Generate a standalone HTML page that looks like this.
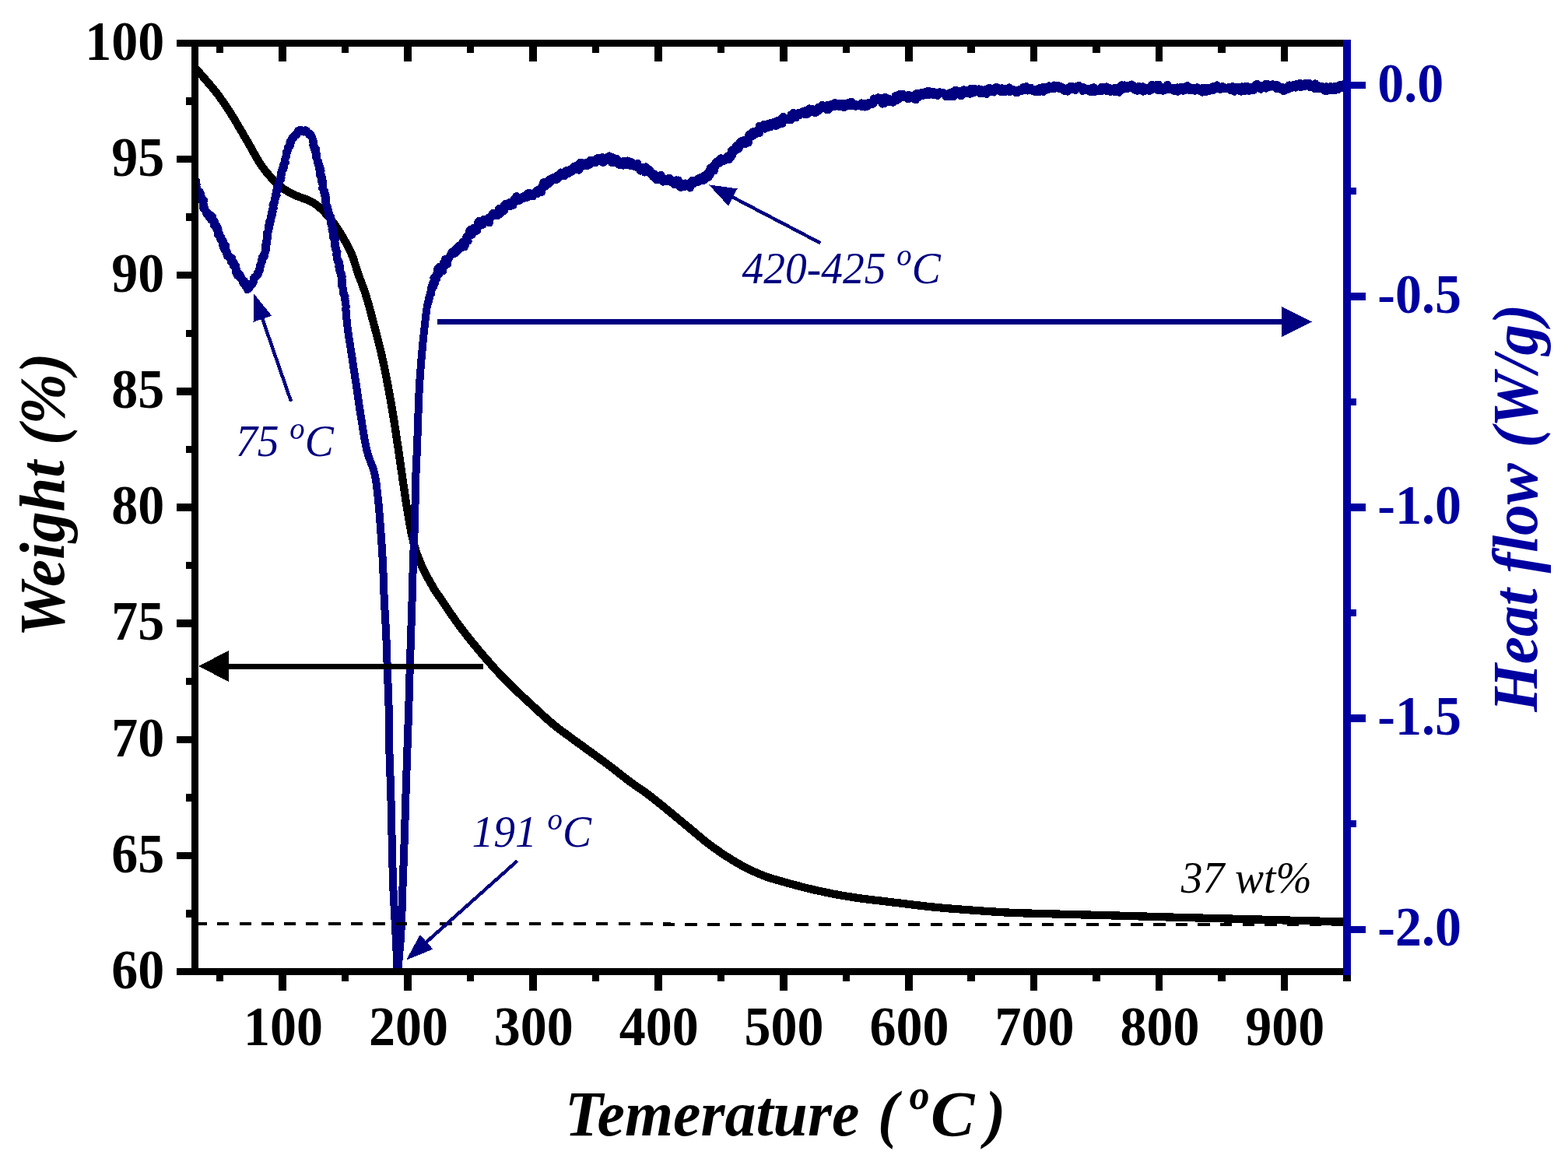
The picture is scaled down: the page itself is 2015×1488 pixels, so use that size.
<!DOCTYPE html>
<html><head><meta charset="utf-8"><title>TGA / DSC</title>
<style>html,body{margin:0;padding:0;background:#fff}svg{display:block}</style>
</head><body>
<svg width="2015" height="1488" viewBox="0 0 2015 1488" shape-rendering="crispEdges">
<rect width="2015" height="1488" fill="#fff"/>
<defs><clipPath id="pc"><rect x="255" y="60" width="1471" height="1184"/></clipPath></defs>
<g clip-path="url(#pc)">
<path d="M246.0,82.0 L247.0,83.1 L247.9,84.0 L248.7,84.9 L249.5,85.8 L250.5,86.8 L251.6,88.1 L253.1,89.7 L254.9,91.8 L257.2,94.4 L259.9,97.5 L262.9,100.9 L266.1,104.6 L269.3,108.4 L272.6,112.2 L275.7,116.0 L278.5,119.6 L281.1,123.0 L283.5,126.4 L285.9,129.7 L288.2,133.1 L290.5,136.5 L292.8,139.9 L295.1,143.5 L297.5,147.3 L300.0,151.2 L302.4,155.3 L304.9,159.5 L307.4,163.8 L310.0,168.2 L312.5,172.5 L315.0,176.8 L317.5,181.1 L320.0,185.4 L322.5,189.8 L324.9,194.2 L327.4,198.6 L329.9,202.9 L332.4,207.1 L334.9,211.1 L337.5,214.8 L340.1,218.3 L342.8,221.7 L345.6,225.0 L348.3,228.1 L351.1,231.0 L353.8,233.8 L356.5,236.4 L359.1,238.7 L361.7,240.8 L364.2,242.6 L366.7,244.2 L369.2,245.6 L371.6,247.0 L374.1,248.2 L376.5,249.4 L379.0,250.6 L381.5,251.8 L384.1,252.8 L386.7,253.8 L389.3,254.7 L391.8,255.6 L394.3,256.5 L396.6,257.4 L398.8,258.5 L400.8,259.6 L402.6,260.6 L404.4,261.7 L406.0,262.8 L407.6,264.0 L409.2,265.3 L410.9,266.8 L412.7,268.4 L414.6,270.2 L416.6,272.2 L418.6,274.4 L420.6,276.6 L422.7,279.0 L424.7,281.4 L426.7,283.8 L428.6,286.3 L430.5,288.9 L432.3,291.5 L434.1,294.3 L435.9,297.1 L437.7,299.9 L439.4,302.7 L441.0,305.4 L442.5,308.1 L443.9,310.7 L445.3,313.1 L446.6,315.5 L447.8,317.9 L449.0,320.3 L450.2,322.8 L451.3,325.3 L452.4,328.0 L453.5,330.8 L454.5,333.6 L455.4,336.5 L456.3,339.4 L457.3,342.4 L458.2,345.5 L459.2,348.6 L460.3,351.8 L461.4,355.0 L462.6,358.2 L463.9,361.4 L465.1,364.8 L466.4,368.2 L467.7,371.8 L469.0,375.6 L470.3,379.7 L471.6,384.1 L473.0,388.8 L474.4,393.7 L475.8,398.8 L477.1,404.0 L478.5,409.2 L479.9,414.4 L481.2,419.4 L482.5,424.4 L483.8,429.3 L485.1,434.3 L486.3,439.2 L487.6,444.2 L488.8,449.2 L490.0,454.1 L491.1,459.1 L492.2,464.1 L493.3,469.0 L494.3,474.0 L495.3,479.0 L496.3,483.9 L497.2,488.9 L498.2,493.8 L499.1,498.8 L500.0,503.8 L500.9,508.7 L501.8,513.7 L502.7,518.6 L503.5,523.6 L504.4,528.6 L505.2,533.5 L506.0,538.5 L506.8,543.4 L507.6,548.4 L508.3,553.3 L509.1,558.2 L509.8,563.2 L510.5,568.1 L511.3,573.1 L512.0,578.2 L512.8,583.3 L513.5,588.6 L514.3,593.8 L515.0,599.1 L515.8,604.4 L516.6,609.6 L517.3,614.9 L518.1,620.0 L518.8,625.1 L519.6,630.1 L520.3,635.0 L521.0,640.0 L521.7,644.9 L522.5,649.8 L523.3,654.8 L524.1,659.7 L525.0,664.7 L525.9,669.9 L526.8,675.0 L527.7,680.2 L528.7,685.2 L529.8,690.2 L530.9,694.9 L532.0,699.4 L533.2,703.6 L534.4,707.6 L535.7,711.5 L537.1,715.2 L538.5,718.8 L539.9,722.3 L541.4,725.7 L542.9,729.2 L544.5,732.7 L546.3,736.3 L548.2,739.9 L550.1,743.4 L552.0,746.7 L553.8,749.8 L555.4,752.6 L556.8,755.0 L557.8,756.8 L558.4,757.8 L558.8,758.4 L559.1,758.9 L559.5,759.5 L560.2,760.4 L561.3,762.0 L563.0,764.5 L565.4,768.0 L568.3,772.3 L571.5,777.2 L575.1,782.4 L578.9,787.9 L582.7,793.5 L586.5,798.8 L590.2,803.9 L593.8,808.7 L597.6,813.6 L601.3,818.4 L605.2,823.2 L609.0,827.9 L612.9,832.6 L616.7,837.2 L620.5,841.7 L624.3,846.1 L628.1,850.4 L631.8,854.7 L635.6,858.9 L639.4,863.0 L643.1,867.0 L646.9,871.0 L650.7,874.9 L654.5,878.7 L658.3,882.4 L662.1,886.1 L665.9,889.7 L669.6,893.2 L673.4,896.7 L677.2,900.2 L681.0,903.7 L684.8,907.2 L688.6,910.7 L692.3,914.2 L696.1,917.7 L699.9,921.1 L703.6,924.5 L707.4,927.7 L711.2,930.9 L714.9,933.9 L718.5,936.7 L722.1,939.4 L725.7,942.1 L729.4,944.8 L733.2,947.5 L737.2,950.5 L741.5,953.6 L746.2,957.0 L751.3,960.7 L756.6,964.6 L762.1,968.5 L767.5,972.5 L772.8,976.3 L777.8,979.9 L782.3,983.3 L786.4,986.4 L790.1,989.3 L793.6,992.0 L796.9,994.7 L800.1,997.2 L803.3,999.7 L806.4,1002.1 L809.6,1004.5 L812.8,1006.8 L816.0,1009.1 L819.1,1011.2 L822.1,1013.3 L825.2,1015.4 L828.3,1017.5 L831.3,1019.7 L834.4,1022.0 L837.5,1024.4 L840.6,1026.8 L843.7,1029.3 L846.8,1031.8 L850.0,1034.4 L853.1,1036.9 L856.2,1039.5 L859.3,1042.0 L862.4,1044.5 L865.5,1047.1 L868.6,1049.7 L871.7,1052.2 L874.8,1054.8 L877.9,1057.4 L881.0,1059.9 L884.1,1062.5 L887.2,1065.1 L890.3,1067.7 L893.4,1070.3 L896.5,1072.9 L899.6,1075.5 L902.7,1078.1 L905.8,1080.6 L908.9,1083.0 L912.0,1085.4 L915.1,1087.7 L918.2,1089.9 L921.3,1092.1 L924.4,1094.3 L927.5,1096.4 L930.6,1098.5 L933.7,1100.5 L936.8,1102.5 L939.9,1104.4 L943.0,1106.3 L946.1,1108.2 L949.2,1110.0 L952.3,1111.7 L955.4,1113.4 L958.5,1115.0 L961.6,1116.6 L964.7,1118.1 L967.8,1119.5 L970.9,1120.9 L974.0,1122.3 L977.1,1123.6 L980.2,1124.8 L983.3,1126.0 L986.4,1127.1 L989.5,1128.1 L992.6,1129.1 L995.7,1130.0 L998.8,1130.9 L1001.9,1131.8 L1005.0,1132.6 L1008.1,1133.5 L1011.2,1134.4 L1014.3,1135.3 L1017.4,1136.1 L1020.5,1137.0 L1023.6,1137.8 L1026.7,1138.6 L1029.8,1139.4 L1032.9,1140.2 L1036.0,1141.0 L1039.1,1141.7 L1042.2,1142.4 L1045.3,1143.2 L1048.5,1143.9 L1051.6,1144.6 L1054.7,1145.2 L1057.8,1145.9 L1060.9,1146.6 L1064.0,1147.2 L1067.1,1147.8 L1070.2,1148.5 L1073.3,1149.1 L1076.4,1149.7 L1079.5,1150.2 L1082.6,1150.8 L1085.7,1151.3 L1088.8,1151.8 L1091.9,1152.3 L1095.0,1152.8 L1098.1,1153.3 L1101.2,1153.7 L1104.3,1154.2 L1107.4,1154.6 L1110.5,1155.0 L1113.5,1155.4 L1116.5,1155.8 L1119.5,1156.1 L1122.5,1156.5 L1125.7,1156.8 L1128.9,1157.2 L1132.2,1157.6 L1135.6,1158.0 L1139.1,1158.4 L1142.6,1158.9 L1146.2,1159.3 L1149.9,1159.8 L1153.8,1160.2 L1157.8,1160.7 L1161.9,1161.2 L1166.2,1161.7 L1170.7,1162.3 L1175.3,1162.8 L1180.1,1163.4 L1184.9,1164.0 L1189.9,1164.5 L1194.9,1165.1 L1200.0,1165.6 L1205.1,1166.1 L1210.3,1166.6 L1215.6,1167.0 L1220.9,1167.5 L1226.4,1167.9 L1232.0,1168.3 L1237.8,1168.8 L1243.8,1169.2 L1250.1,1169.7 L1256.6,1170.1 L1263.3,1170.6 L1270.2,1171.1 L1277.1,1171.5 L1284.0,1172.0 L1290.9,1172.4 L1297.6,1172.7 L1304.2,1173.0 L1310.7,1173.2 L1317.1,1173.4 L1323.6,1173.6 L1330.0,1173.8 L1336.6,1174.0 L1343.2,1174.1 L1350.0,1174.3 L1356.8,1174.5 L1363.4,1174.7 L1370.1,1174.8 L1376.9,1175.0 L1383.9,1175.2 L1391.3,1175.4 L1399.1,1175.6 L1407.5,1175.8 L1416.6,1176.0 L1426.3,1176.3 L1436.4,1176.6 L1446.9,1176.9 L1457.6,1177.2 L1468.4,1177.5 L1479.0,1177.8 L1489.4,1178.1 L1499.6,1178.4 L1509.9,1178.7 L1520.1,1178.9 L1530.4,1179.2 L1540.6,1179.5 L1550.8,1179.8 L1561.1,1180.0 L1571.3,1180.3 L1581.6,1180.6 L1591.9,1180.9 L1602.3,1181.1 L1612.7,1181.4 L1623.0,1181.7 L1633.2,1182.0 L1643.3,1182.2 L1653.2,1182.5 L1662.9,1182.8 L1672.4,1183.0 L1681.8,1183.3 L1691.0,1183.5 L1700.3,1183.8 L1709.5,1184.0 L1718.7,1184.3 L1728.0,1184.5" stroke="#000" stroke-width="10.3" fill="none" stroke-linejoin="round"/>
</g>
<g clip-path="url(#pc)">
<path d="M247.8,226.8 L249.0,229.4 L249.4,229.4 L247.2,226.8 L249.2,229.7 L247.1,226.9 L249.1,228.0 L249.6,232.0 L249.2,234.1 L249.3,231.4 L249.2,231.8 L250.3,235.3 L250.7,232.3 L251.9,232.3 L252.2,236.6 L251.5,236.4 L252.6,237.2 L250.8,239.8 L250.9,237.4 L251.8,240.6 L253.1,240.7 L253.2,241.1 L252.4,240.8 L252.4,243.1 L251.8,243.6 L251.5,241.5 L253.2,245.7 L254.0,245.4 L252.8,245.7 L253.6,247.9 L254.1,247.6 L254.2,249.4 L256.2,248.9 L255.5,248.9 L256.9,246.5 L256.6,248.6 L256.8,247.8 L258.3,249.4 L256.7,250.4 L256.8,250.4 L256.9,253.3 L257.2,252.0 L259.3,254.2 L257.8,251.3 L258.2,254.8 L259.0,257.5 L258.7,254.8 L261.0,257.6 L259.7,257.0 L260.3,256.1 L260.9,256.6 L260.3,257.2 L262.0,257.3 L261.0,260.6 L261.4,260.6 L261.4,261.4 L261.7,263.4 L261.3,263.8 L262.2,263.3 L260.6,265.8 L262.3,266.0 L261.9,268.9 L263.6,268.9 L262.5,266.0 L262.1,267.0 L263.0,268.7 L263.7,269.8 L263.8,270.7 L265.0,272.3 L264.6,271.0 L266.6,273.9 L265.1,274.5 L267.3,275.8 L267.1,274.4 L267.1,275.1 L268.1,274.7 L268.3,278.7 L269.0,278.3 L269.3,278.5 L270.0,278.1 L271.5,279.4 L271.7,276.8 L270.4,278.0 L271.6,277.0 L271.4,277.9 L272.4,279.8 L273.3,279.0 L271.4,282.9 L274.1,282.4 L273.3,282.7 L273.5,283.4 L274.7,284.1 L274.6,283.3 L274.1,285.1 L276.1,285.1 L274.9,285.9 L274.9,289.2 L277.8,289.4 L276.3,288.4 L276.8,288.2 L277.3,290.2 L278.8,290.4 L279.3,292.0 L278.4,290.2 L278.2,291.0 L278.4,295.3 L278.6,292.8 L279.0,293.4 L279.0,294.6 L280.7,294.6 L279.4,295.6 L279.6,295.9 L280.2,297.4 L280.9,298.2 L281.2,299.5 L281.6,298.9 L280.3,302.0 L280.4,300.0 L280.7,300.0 L280.7,299.0 L281.0,302.7 L281.3,302.9 L282.9,304.2 L282.6,306.6 L284.3,304.7 L282.9,305.5 L283.9,306.3 L284.3,308.8 L283.8,307.3 L285.2,308.7 L284.2,308.8 L283.8,308.7 L285.8,308.6 L285.5,311.4 L286.8,309.2 L286.8,313.4 L286.4,314.8 L285.9,312.1 L286.1,313.2 L286.6,317.6 L286.9,316.4 L287.1,317.3 L289.0,314.0 L288.9,315.3 L290.3,316.2 L288.6,319.7 L288.5,321.0 L290.5,318.6 L288.4,319.6 L289.3,320.2 L290.1,322.6 L291.4,323.5 L290.5,324.9 L291.9,323.8 L291.6,327.5 L292.7,328.1 L292.5,327.0 L293.1,327.1 L291.9,329.0 L293.9,327.9 L294.2,328.9 L295.8,330.9 L295.2,332.1 L296.1,330.6 L295.1,331.8 L297.4,332.5 L296.6,334.0 L298.0,332.1 L298.5,331.9 L297.6,332.1 L296.7,334.8 L297.1,336.9 L299.0,336.6 L298.8,338.4 L299.9,336.6 L299.1,338.7 L300.1,340.8 L298.5,336.3 L299.1,338.5 L300.3,339.7 L300.9,340.8 L301.0,338.0 L299.8,341.3 L300.5,339.4 L301.7,342.3 L300.9,342.8 L303.4,342.0 L303.2,343.2 L303.5,345.8 L303.9,346.3 L302.7,345.7 L303.3,348.0 L303.3,348.4 L304.1,349.3 L303.2,350.9 L304.5,349.2 L305.8,350.2 L304.5,348.9 L305.0,351.8 L304.5,352.6 L304.8,350.5 L304.8,354.0 L306.3,353.6 L307.8,352.0 L307.4,353.6 L307.7,355.1 L307.2,356.1 L309.0,356.8 L309.7,355.2 L310.4,357.3 L309.8,357.2 L311.0,359.5 L312.4,360.6 L310.8,359.6 L310.9,358.2 L311.4,360.1 L312.3,363.8 L312.0,360.5 L311.9,361.7 L313.9,360.9 L313.0,364.5 L315.0,365.8 L315.6,367.6 L314.1,364.8 L314.6,366.4 L315.0,366.7 L315.9,368.4 L317.1,368.3 L318.0,369.2 L316.9,368.6 L317.9,372.2 L319.8,369.6 L320.5,370.4 L321.5,367.3 L321.5,366.8 L322.6,366.3 L321.6,367.4 L322.6,364.6 L324.4,365.1 L324.4,363.6 L325.1,363.2 L325.0,362.3 L326.0,362.5 L325.1,361.9 L326.5,361.4 L325.6,359.5 L325.7,358.9 L326.4,358.4 L326.1,358.6 L326.1,357.6 L327.6,357.2 L327.1,355.8 L328.3,355.2 L328.0,355.3 L328.2,355.9 L328.8,355.7 L329.9,354.8 L329.5,354.5 L330.4,354.3 L330.3,354.7 L331.2,353.5 L330.8,353.4 L330.5,352.3 L330.7,350.9 L332.0,349.7 L332.5,351.1 L332.0,350.7 L332.2,349.9 L332.5,348.9 L334.2,347.0 L332.6,347.1 L333.7,346.6 L334.5,344.5 L334.0,344.3 L334.7,341.7 L334.7,340.6 L335.5,340.7 L334.8,339.8 L334.4,340.5 L334.8,339.4 L335.5,339.1 L336.2,337.4 L335.8,336.9 L336.3,337.0 L335.5,336.0 L335.6,334.6 L335.8,335.9 L336.6,333.3 L337.2,335.4 L337.4,333.1 L337.5,332.5 L336.7,330.8 L338.5,331.1 L338.2,330.7 L339.3,328.7 L337.8,329.1 L339.6,329.8 L339.4,329.2 L339.8,328.4 L339.5,325.9 L339.7,326.0 L339.8,326.3 L340.6,324.2 L340.9,323.6 L341.0,324.0 L341.3,322.0 L340.8,322.8 L341.4,320.9 L341.8,320.3 L342.3,320.3 L341.3,318.9 L341.7,319.3 L341.5,319.0 L342.2,318.5 L341.1,317.0 L341.2,315.8 L341.2,314.6 L341.1,315.3 L342.2,314.2 L343.1,312.8 L342.0,311.5 L342.2,311.8 L341.7,310.4 L342.9,310.1 L343.1,308.4 L343.0,308.4 L342.8,307.9 L344.0,306.4 L343.7,304.9 L344.1,304.3 L342.6,305.4 L343.9,303.0 L343.2,303.5 L344.0,302.8 L344.2,301.4 L343.4,301.3 L343.4,300.6 L344.5,298.9 L344.4,298.4 L343.3,299.0 L344.2,297.7 L345.1,295.7 L344.5,295.0 L345.3,296.0 L345.0,293.9 L345.5,294.5 L345.8,293.2 L345.2,292.5 L345.2,291.4 L345.4,291.5 L345.4,291.1 L346.6,289.3 L346.0,290.2 L346.4,289.8 L345.4,289.2 L346.4,287.8 L345.8,286.3 L347.2,287.0 L347.3,285.3 L346.3,284.6 L347.3,285.4 L346.4,284.2 L347.9,284.4 L348.4,283.2 L348.3,281.1 L347.9,280.4 L348.7,279.4 L348.0,279.0 L348.7,278.1 L348.6,277.3 L348.0,277.9 L348.7,276.4 L348.6,276.3 L349.4,275.3 L350.1,275.3 L350.1,273.2 L349.1,272.5 L349.9,273.0 L349.7,271.9 L350.7,271.8 L349.7,270.7 L349.9,270.1 L349.9,269.0 L350.3,268.5 L350.8,266.9 L350.4,267.5 L351.8,267.2 L351.3,266.1 L351.5,266.9 L351.1,266.5 L351.0,265.2 L351.7,263.6 L350.4,263.6 L351.2,261.6 L351.4,263.0 L351.8,261.0 L352.3,260.9 L352.7,261.0 L352.2,259.2 L352.7,258.9 L353.0,258.7 L353.3,257.0 L353.1,256.2 L353.6,255.3 L353.1,254.4 L354.1,255.2 L353.5,253.4 L353.7,252.6 L354.0,253.0 L355.3,251.7 L355.7,251.3 L354.2,251.3 L354.4,250.3 L354.5,248.0 L355.3,247.8 L354.8,248.2 L355.2,246.5 L354.8,246.0 L355.3,245.2 L356.5,244.0 L355.9,244.4 L357.0,244.4 L356.1,243.4 L356.1,240.8 L357.4,241.6 L357.5,241.1 L357.2,240.2 L356.9,240.4 L356.9,239.2 L357.6,237.7 L357.9,237.7 L357.7,237.2 L358.7,234.4 L359.2,233.7 L359.1,234.1 L359.1,232.9 L359.0,233.6 L359.4,232.3 L359.1,231.3 L359.7,232.0 L360.2,230.6 L359.5,231.8 L360.8,231.1 L361.5,228.5 L360.7,228.0 L361.1,227.4 L360.5,226.4 L361.1,227.2 L361.5,227.0 L361.2,225.5 L361.1,225.7 L361.8,224.7 L361.5,220.9 L361.0,222.7 L362.1,221.4 L362.2,220.0 L362.4,218.9 L363.6,217.8 L362.4,218.4 L363.1,217.9 L363.2,216.0 L364.4,216.8 L364.4,214.9 L364.7,214.0 L365.0,215.4 L364.5,213.4 L365.0,214.0 L365.0,213.1 L364.2,211.8 L364.3,211.9 L365.0,210.2 L364.8,210.4 L365.5,209.7 L366.6,208.1 L366.2,209.0 L366.9,208.7 L366.2,208.3 L365.7,205.4 L366.3,206.6 L366.4,205.2 L366.6,204.5 L366.7,203.9 L366.9,203.6 L367.0,202.0 L368.3,200.5 L368.5,199.9 L368.2,199.4 L367.7,199.8 L368.5,197.1 L368.1,197.1 L368.5,195.7 L369.0,195.7 L368.1,196.6 L368.1,195.3 L369.2,194.3 L369.5,193.5 L369.3,192.9 L370.3,191.9 L370.5,191.5 L370.4,189.8 L370.9,189.5 L370.1,189.3 L370.5,190.0 L371.3,187.7 L371.4,186.6 L371.4,188.1 L372.7,187.9 L372.1,186.0 L372.6,185.6 L372.9,185.1 L373.4,182.4 L373.7,183.9 L372.5,182.6 L373.4,180.9 L373.9,180.8 L373.9,180.5 L374.0,179.7 L375.0,178.2 L375.2,177.3 L375.4,179.5 L376.6,176.1 L376.6,176.8 L377.3,175.4 L377.4,175.6 L377.9,176.4 L378.7,174.3 L379.0,174.4 L379.9,173.4 L379.4,172.8 L380.6,172.9 L381.1,173.2 L382.1,171.8 L381.5,170.9 L382.3,169.5 L383.1,169.0 L383.3,167.7 L384.2,167.4 L385.3,167.4 L385.2,169.3 L386.0,168.2 L386.7,168.6 L387.8,168.0 L388.0,167.4 L389.6,167.8 L389.3,169.2 L390.2,169.5 L391.4,168.3 L391.4,167.5 L392.5,167.2 L393.6,167.6 L394.5,168.5 L394.5,170.0 L395.1,170.6 L394.5,170.3 L395.4,170.5 L396.9,170.9 L396.8,171.7 L397.6,172.8 L396.6,171.3 L396.9,173.0 L398.7,172.4 L399.5,172.8 L399.7,174.0 L399.3,173.7 L400.4,176.3 L400.5,176.5 L400.8,175.6 L401.1,176.6 L401.0,177.1 L401.9,178.9 L401.4,177.5 L401.8,178.7 L401.7,180.4 L402.3,181.4 L403.0,183.3 L403.4,182.8 L402.5,183.6 L402.9,185.9 L403.0,184.5 L403.6,186.6 L402.4,185.6 L402.3,186.6 L403.8,187.7 L403.1,189.0 L404.9,190.5 L403.6,189.6 L403.9,191.5 L405.4,191.6 L405.6,191.1 L406.1,191.6 L404.6,193.3 L405.2,192.5 L404.9,194.9 L406.3,193.5 L405.9,193.2 L406.2,195.3 L406.1,196.8 L406.8,197.2 L406.9,197.8 L406.3,197.9 L406.2,199.6 L406.8,199.4 L406.7,200.5 L407.5,201.6 L406.7,200.7 L407.4,203.4 L406.3,202.2 L407.3,203.9 L407.5,204.4 L408.0,207.0 L408.9,207.1 L409.3,209.1 L408.2,208.5 L408.2,209.3 L409.2,210.3 L409.4,209.8 L409.4,209.9 L410.0,211.2 L409.0,211.4 L410.0,212.6 L410.3,215.2 L411.0,215.6 L411.6,215.1 L411.5,215.8 L410.4,216.6 L411.3,217.2 L411.2,217.1 L412.1,218.0 L411.1,218.8 L410.4,217.9 L412.3,219.2 L411.8,220.2 L412.4,219.7 L411.8,220.4 L411.1,222.5 L412.3,221.8 L411.6,223.7 L411.5,224.5 L412.6,223.8 L411.4,226.4 L411.4,226.4 L413.5,227.0 L413.2,228.9 L413.9,228.2 L413.3,229.7 L412.7,231.0 L413.9,230.3 L413.6,232.3 L413.4,233.9 L414.8,232.6 L414.2,233.6 L414.4,234.1 L414.7,234.7 L414.3,236.8 L415.0,236.8 L414.9,238.2 L415.2,238.3 L414.4,241.1 L415.5,241.3 L414.2,241.9 L414.2,241.9 L414.2,241.7 L414.8,242.9 L415.6,243.4 L415.6,245.0 L416.1,245.5 L416.8,246.0 L417.1,245.6 L417.0,246.8 L417.3,246.7 L417.6,248.1 L416.4,247.7 L417.4,250.1 L417.2,248.4 L416.9,250.3 L417.8,250.3 L418.6,250.5 L417.7,252.9 L418.1,254.1 L418.6,252.9 L418.9,254.8 L417.5,254.8 L417.9,255.9 L418.0,256.5 L417.9,257.4 L418.6,257.6 L418.1,259.0 L418.4,258.7 L418.6,260.9 L419.2,261.0 L418.9,260.3 L419.0,263.3 L419.3,263.1 L419.6,264.4 L420.5,265.2 L419.6,264.6 L420.4,265.3 L420.4,265.6 L421.2,266.5 L420.5,269.1 L420.8,268.0 L422.1,270.1 L421.1,270.2 L421.0,269.9 L421.3,270.2 L422.3,270.6 L422.2,273.6 L422.8,273.9 L421.9,274.2 L422.2,273.7 L421.7,275.2 L423.0,275.2 L423.8,278.3 L423.7,276.8 L422.8,279.3 L423.8,279.9 L425.2,278.8 L424.0,280.2 L425.1,279.5 L424.2,280.6 L425.7,282.2 L425.5,281.9 L425.8,284.2 L424.7,283.6 L426.2,284.0 L426.0,284.3 L425.9,286.4 L426.5,286.6 L424.9,286.8 L425.8,286.9 L426.6,288.6 L426.6,288.9 L426.3,288.9 L425.8,289.9 L427.5,291.5 L426.6,291.6 L427.6,292.0 L428.3,293.3 L427.0,293.8 L426.5,294.8 L427.2,296.7 L427.4,296.2 L428.7,297.1 L427.6,298.6 L428.3,299.2 L429.0,300.0 L428.3,300.5 L428.8,301.2 L427.9,301.1 L429.1,300.9 L428.1,300.9 L427.8,301.6 L428.8,303.5 L429.6,303.4 L428.3,305.6 L428.7,305.0 L430.1,306.9 L430.1,307.2 L430.7,307.1 L429.6,307.9 L430.1,308.7 L429.9,309.6 L430.8,308.6 L430.0,309.7 L429.9,312.6 L430.5,311.7 L431.3,313.6 L430.7,313.8 L429.7,314.5 L431.0,316.2 L430.2,316.7 L430.7,318.2 L431.8,318.2 L431.5,319.5 L431.5,319.9 L430.8,319.0 L431.5,321.0 L432.3,321.3 L432.6,322.8 L431.8,321.9 L433.1,323.6 L433.0,324.3 L433.5,323.7 L432.1,326.6 L432.4,325.6 L432.8,326.9 L432.4,327.0 L432.5,327.2 L433.5,329.0 L433.0,331.1 L433.2,332.0 L433.5,332.2 L433.0,332.4 L433.5,333.9 L433.2,332.4 L434.3,334.0 L433.8,335.5 L435.1,334.9 L434.4,335.5 L435.4,336.3 L435.9,336.8 L435.2,337.3 L436.1,338.8 L435.4,338.6 L435.6,339.9 L436.4,341.9 L436.7,341.5 L435.4,341.9 L435.4,343.4 L435.8,342.8 L437.1,343.8 L435.6,345.5 L436.7,346.6 L436.2,347.4 L436.4,346.6 L437.1,346.3 L436.5,348.3 L436.6,347.4 L438.0,350.1 L437.5,350.6 L437.3,351.1 L438.0,350.2 L437.5,350.8 L438.0,352.2 L438.9,351.5 L437.7,353.3 L438.8,353.5 L439.5,354.6 L438.8,355.3 L438.8,356.8 L439.8,355.7 L438.9,356.6 L438.7,358.7 L439.1,359.0 L439.7,359.6 L439.7,359.2 L439.8,360.5 L439.6,361.3 L440.0,361.7 L439.4,363.2 L439.3,362.7 L438.8,364.7 L439.9,366.1 L439.1,366.8 L439.2,366.7 L440.2,367.7 L439.5,367.2 L440.1,368.6 L440.7,369.9 L440.8,371.4 L440.9,372.0 L440.8,372.3 L441.4,373.7 L441.3,374.2 L441.2,374.7 L441.5,375.2 L441.0,376.5 L442.1,377.1 L442.0,377.9 L442.0,377.8 L442.1,378.2 L442.1,379.0 L442.5,379.4 L442.4,379.8 L443.0,380.9 L443.5,381.1 L443.2,382.2 L443.0,382.4 L443.5,383.2 L443.5,384.0 L443.4,384.7 L443.3,385.2 L443.8,386.5 L443.9,386.7 L444.0,387.8 L443.9,388.5 L444.0,390.3 L444.1,390.6 L444.3,391.0 L444.2,391.8 L444.5,392.2 L444.6,393.3 L444.8,394.2 L444.5,395.0 L444.6,395.5 L444.4,395.9 L444.2,396.5 L444.3,397.5 L444.2,398.0 L444.5,398.6 L444.4,399.2 L444.9,399.9 L444.6,400.4 L444.9,401.3 L445.0,401.8 L444.8,402.8 L444.8,403.6 L445.2,403.9 L445.2,404.9 L445.2,405.3 L445.1,405.9 L445.0,406.8 L445.3,407.5 L445.2,408.4 L445.4,409.1 L445.4,409.7 L445.4,410.3 L445.6,411.1 L445.6,411.8 L445.6,412.5 L445.7,413.1 L445.8,413.7 L445.8,414.3 L445.9,415.1 L445.9,415.8 L446.1,416.5 L446.1,417.2 L446.2,417.8 L446.3,418.6 L446.4,419.3 L446.5,419.9 L446.6,420.6 L446.6,421.3 L446.7,422.0 L446.8,422.7 L446.9,423.4 L447.0,424.1 L447.1,424.8 L447.2,425.5 L447.3,426.2 L447.4,426.9 L447.5,427.6 L447.6,428.3 L447.7,429.0 L447.8,429.7 L447.9,430.3 L448.0,431.0 L448.1,431.7 L448.2,432.4 L448.3,433.1 L448.4,433.8 L448.5,434.5 L448.6,435.2 L448.7,435.9 L448.8,436.6 L449.0,437.3 L449.1,438.0 L449.2,438.7 L449.3,439.3 L449.4,440.0 L449.5,440.7 L449.6,441.4 L449.7,442.1 L449.8,442.8 L449.9,443.5 L450.1,444.2 L450.2,444.9 L450.3,445.6 L450.4,446.3 L450.5,446.9 L450.6,447.6 L450.7,448.3 L450.8,449.0 L450.9,449.7 L451.0,450.4 L451.2,451.1 L451.3,451.8 L451.4,452.5 L451.5,453.2 L451.6,453.9 L451.7,454.6 L451.8,455.2 L451.9,455.9 L452.0,456.6 L452.1,457.3 L452.2,458.0 L452.3,458.7 L452.4,459.4 L452.5,460.1 L452.7,460.8 L452.8,461.5 L452.9,462.2 L453.0,462.9 L453.1,463.5 L453.2,464.2 L453.3,464.9 L453.4,465.6 L453.5,466.3 L453.6,467.0 L453.7,467.7 L453.8,468.4 L453.9,469.1 L454.0,469.8 L454.1,470.5 L454.2,471.2 L454.3,471.9 L454.4,472.5 L454.5,473.2 L454.6,473.9 L454.8,474.6 L454.9,475.3 L455.0,476.0 L455.1,476.7 L455.2,477.4 L455.3,478.1 L455.4,478.8 L455.5,479.5 L455.6,480.2 L455.7,480.8 L455.8,481.5 L455.9,482.2 L456.0,482.9 L456.1,483.6 L456.2,484.3 L456.3,485.0 L456.4,485.7 L456.5,486.4 L456.6,487.1 L456.7,487.8 L456.8,488.5 L456.9,489.2 L457.1,489.8 L457.2,490.5 L457.3,491.2 L457.4,491.9 L457.5,492.6 L457.6,493.3 L457.7,494.0 L457.8,494.7 L457.9,495.4 L458.0,496.1 L458.1,496.8 L458.2,497.5 L458.3,498.2 L458.4,498.8 L458.5,499.5 L458.6,500.2 L458.7,500.9 L458.8,501.6 L458.9,502.3 L459.0,503.0 L459.1,503.7 L459.2,504.4 L459.3,505.1 L459.4,505.8 L459.5,506.5 L459.6,507.2 L459.7,507.8 L459.8,508.5 L459.9,509.2 L460.0,509.9 L460.1,510.6 L460.2,511.3 L460.3,512.0 L460.4,512.7 L460.5,513.4 L460.6,514.1 L460.7,514.8 L460.8,515.5 L460.9,516.2 L461.0,516.9 L461.1,517.5 L461.2,518.2 L461.3,518.9 L461.4,519.6 L461.5,520.3 L461.6,521.0 L461.7,521.7 L461.8,522.4 L461.9,523.1 L462.0,523.8 L462.1,524.5 L462.2,525.2 L462.3,525.9 L462.4,526.6 L462.6,527.2 L462.7,527.9 L462.8,528.6 L462.9,529.3 L463.0,530.0 L463.1,530.7 L463.2,531.4 L463.3,532.1 L463.4,532.8 L463.5,533.5 L463.6,534.2 L463.7,534.9 L463.8,535.5 L463.9,536.2 L464.0,536.9 L464.2,537.6 L464.3,538.3 L464.4,539.0 L464.5,539.7 L464.6,540.4 L464.7,541.1 L464.8,541.8 L464.9,542.5 L465.0,543.2 L465.2,543.8 L465.3,544.5 L465.4,545.2 L465.5,545.9 L465.6,546.6 L465.7,547.3 L465.8,548.0 L465.9,548.7 L466.0,549.4 L466.1,550.1 L466.2,550.8 L466.3,551.4 L466.5,552.1 L466.6,552.8 L466.7,553.5 L466.8,554.2 L466.9,554.9 L467.0,555.6 L467.1,556.3 L467.2,557.0 L467.3,557.7 L467.5,558.4 L467.6,559.1 L467.7,559.7 L467.8,560.4 L467.9,561.1 L468.0,561.8 L468.1,562.5 L468.3,563.2 L468.4,563.9 L468.5,564.6 L468.6,565.3 L468.8,565.9 L468.9,566.6 L469.0,567.3 L469.1,568.0 L469.3,568.7 L469.4,569.4 L469.5,570.1 L469.7,570.8 L469.8,571.4 L470.0,572.1 L470.1,572.8 L470.2,573.5 L470.4,574.2 L470.5,574.9 L470.7,575.6 L470.8,576.2 L471.0,576.9 L471.2,577.6 L471.3,578.3 L471.5,579.0 L471.7,579.6 L471.9,580.3 L472.0,581.0 L472.2,581.7 L472.4,582.3 L472.6,583.0 L472.8,583.7 L473.0,584.3 L473.2,585.0 L473.5,585.7 L473.7,586.3 L473.9,587.0 L474.1,587.7 L474.4,588.3 L474.6,589.0 L474.9,589.6 L475.1,590.3 L475.3,591.0 L475.6,591.6 L475.8,592.3 L476.1,592.9 L476.3,593.6 L476.6,594.2 L476.8,594.9 L477.1,595.5 L477.3,596.2 L477.6,596.9 L477.8,597.5 L478.0,598.2 L478.3,598.8 L478.5,599.5 L478.8,600.1 L479.0,600.8 L479.2,601.5 L479.5,602.1 L479.7,602.8 L479.9,603.5 L480.1,604.1 L480.3,604.8 L480.5,605.5 L480.7,606.1 L480.9,606.8 L481.1,607.5 L481.2,608.2 L481.4,608.8 L481.6,609.5 L481.7,610.2 L481.9,610.9 L482.0,611.6 L482.1,612.3 L482.3,612.9 L482.4,613.6 L482.5,614.3 L482.7,615.0 L482.8,615.7 L482.9,616.4 L483.0,617.1 L483.1,617.8 L483.2,618.5 L483.3,619.2 L483.4,619.8 L483.5,620.5 L483.6,621.2 L483.7,621.9 L483.8,622.6 L483.9,623.3 L484.0,624.0 L484.1,624.7 L484.1,625.4 L484.2,626.1 L484.3,626.8 L484.4,627.5 L484.4,628.2 L484.5,628.9 L484.6,629.6 L484.7,630.3 L484.8,631.0 L484.8,631.7 L484.9,632.4 L485.0,633.1 L485.1,633.8 L485.1,634.5 L485.2,635.1 L485.3,635.8 L485.4,636.5 L485.4,637.2 L485.5,637.9 L485.6,638.6 L485.7,639.3 L485.7,640.0 L485.8,640.7 L485.9,641.4 L486.0,642.1 L486.0,642.8 L486.1,643.5 L486.2,644.2 L486.2,644.9 L486.3,645.6 L486.4,646.3 L486.4,647.0 L486.5,647.7 L486.6,648.4 L486.6,649.1 L486.7,649.8 L486.8,650.5 L486.8,651.2 L486.9,651.9 L486.9,652.6 L487.0,653.3 L487.1,654.0 L487.1,654.7 L487.2,655.4 L487.2,656.0 L487.3,656.7 L487.3,657.4 L487.4,658.1 L487.5,658.8 L487.5,659.5 L487.6,660.2 L487.6,660.9 L487.7,661.6 L487.7,662.3 L487.8,663.0 L487.8,663.7 L487.9,664.4 L488.0,665.1 L488.0,665.8 L488.1,666.5 L488.1,667.2 L488.2,667.9 L488.2,668.6 L488.3,669.3 L488.3,670.0 L488.4,670.7 L488.4,671.4 L488.5,672.1 L488.5,672.8 L488.6,673.5 L488.7,674.2 L488.7,674.9 L488.8,675.6 L488.8,676.3 L488.9,677.0 L488.9,677.7 L489.0,678.4 L489.0,679.1 L489.1,679.8 L489.1,680.5 L489.2,681.2 L489.2,681.9 L489.3,682.6 L489.3,683.3 L489.4,684.0 L489.4,684.7 L489.5,685.4 L489.5,686.1 L489.6,686.8 L489.6,687.5 L489.7,688.2 L489.7,688.9 L489.8,689.6 L489.8,690.2 L489.9,690.9 L489.9,691.6 L490.0,692.3 L490.0,693.0 L490.1,693.7 L490.1,694.4 L490.2,695.1 L490.2,695.8 L490.3,696.5 L490.3,697.2 L490.4,697.9 L490.4,698.6 L490.5,699.3 L490.5,700.0 L490.6,700.7 L490.6,701.4 L490.7,702.1 L490.7,702.8 L490.7,703.5 L490.8,704.2 L490.8,704.9 L490.9,705.6 L490.9,706.3 L491.0,707.0 L491.0,707.7 L491.1,708.4 L491.1,709.1 L491.1,709.8 L491.2,710.5 L491.2,711.2 L491.3,711.9 L491.3,712.6 L491.4,713.3 L491.4,714.0 L491.4,714.7 L491.5,715.4 L491.5,716.1 L491.6,716.8 L491.6,717.5 L491.6,718.2 L491.7,718.9 L491.7,719.6 L491.8,720.3 L491.8,721.0 L491.8,721.7 L491.9,722.4 L491.9,723.1 L491.9,723.8 L492.0,724.5 L492.0,725.2 L492.0,725.9 L492.1,726.6 L492.1,727.3 L492.1,728.0 L492.2,728.7 L492.2,729.4 L492.2,730.1 L492.2,730.8 L492.3,731.5 L492.3,732.2 L492.3,732.9 L492.4,733.6 L492.4,734.3 L492.4,735.0 L492.4,735.7 L492.5,736.4 L492.5,737.1 L492.5,737.8 L492.5,738.5 L492.6,739.2 L492.6,739.9 L492.6,740.6 L492.6,741.3 L492.7,742.0 L492.7,742.7 L492.7,743.4 L492.7,744.1 L492.8,744.8 L492.8,745.5 L492.8,746.2 L492.8,746.9 L492.9,747.6 L492.9,748.3 L492.9,749.0 L492.9,749.7 L493.0,750.4 L493.0,751.1 L493.0,751.8 L493.0,752.5 L493.1,753.2 L493.1,753.9 L493.1,754.6 L493.1,755.3 L493.2,756.0 L493.2,756.7 L493.2,757.4 L493.2,758.1 L493.3,758.8 L493.3,759.5 L493.3,760.2 L493.4,760.9 L493.4,761.6 L493.4,762.3 L493.4,763.0 L493.5,763.7 L493.5,764.4 L493.5,765.1 L493.6,765.8 L493.6,766.5 L493.6,767.1 L493.7,767.8 L493.7,768.5 L493.7,769.2 L493.8,769.9 L493.8,770.6 L493.8,771.3 L493.9,772.0 L493.9,772.7 L493.9,773.4 L494.0,774.1 L494.0,774.8 L494.0,775.5 L494.1,776.2 L494.1,776.9 L494.1,777.6 L494.2,778.3 L494.2,779.0 L494.2,779.7 L494.3,780.4 L494.3,781.1 L494.4,781.8 L494.4,782.5 L494.4,783.2 L494.5,783.9 L494.5,784.6 L494.5,785.3 L494.6,786.0 L494.6,786.7 L494.7,787.4 L494.7,788.1 L494.7,788.8 L494.8,789.5 L494.8,790.2 L494.8,790.9 L494.9,791.6 L494.9,792.3 L495.0,793.0 L495.0,793.7 L495.0,794.4 L495.1,795.1 L495.1,795.8 L495.2,796.5 L495.2,797.2 L495.2,797.9 L495.3,798.6 L495.3,799.3 L495.4,800.0 L495.4,800.7 L495.4,801.4 L495.5,802.1 L495.5,802.8 L495.5,803.5 L495.6,804.2 L495.6,804.9 L495.7,805.6 L495.7,806.3 L495.7,807.0 L495.8,807.7 L495.8,808.4 L495.8,809.1 L495.9,809.8 L495.9,810.5 L495.9,811.2 L496.0,811.9 L496.0,812.6 L496.1,813.3 L496.1,814.0 L496.1,814.7 L496.2,815.4 L496.2,816.1 L496.2,816.8 L496.3,817.5 L496.3,818.2 L496.3,818.9 L496.3,819.6 L496.4,820.3 L496.4,821.0 L496.4,821.7 L496.5,822.4 L496.5,823.1 L496.5,823.8 L496.6,824.5 L496.6,825.2 L496.6,825.9 L496.6,826.6 L496.7,827.3 L496.7,828.0 L496.7,828.7 L496.7,829.4 L496.8,830.1 L496.8,830.8 L496.8,831.5 L496.8,832.2 L496.9,832.9 L496.9,833.6 L496.9,834.3 L496.9,835.0 L497.0,835.7 L497.0,836.4 L497.0,837.1 L497.0,837.8 L497.1,838.5 L497.1,839.2 L497.1,839.9 L497.1,840.6 L497.1,841.3 L497.2,842.0 L497.2,842.7 L497.2,843.4 L497.2,844.1 L497.3,844.8 L497.3,845.5 L497.3,846.2 L497.3,846.9 L497.3,847.6 L497.4,848.3 L497.4,849.0 L497.4,849.7 L497.4,850.4 L497.5,851.1 L497.5,851.8 L497.5,852.5 L497.5,853.2 L497.6,853.9 L497.6,854.6 L497.6,855.3 L497.6,856.0 L497.6,856.7 L497.7,857.4 L497.7,858.1 L497.7,858.8 L497.7,859.5 L497.8,860.2 L497.8,860.9 L497.8,861.6 L497.8,862.3 L497.9,863.0 L497.9,863.7 L497.9,864.4 L498.0,865.1 L498.0,865.7 L498.0,866.4 L498.0,867.1 L498.1,867.8 L498.1,868.5 L498.1,869.2 L498.1,869.9 L498.2,870.6 L498.2,871.3 L498.2,872.0 L498.2,872.7 L498.3,873.4 L498.3,874.1 L498.3,874.8 L498.3,875.5 L498.4,876.2 L498.4,876.9 L498.4,877.6 L498.5,878.3 L498.5,879.0 L498.5,879.7 L498.5,880.4 L498.6,881.1 L498.6,881.8 L498.6,882.5 L498.6,883.2 L498.7,883.9 L498.7,884.6 L498.7,885.3 L498.7,886.0 L498.8,886.7 L498.8,887.4 L498.8,888.1 L498.8,888.8 L498.9,889.5 L498.9,890.2 L498.9,890.9 L499.0,891.6 L499.0,892.3 L499.0,893.0 L499.0,893.7 L499.1,894.4 L499.1,895.1 L499.1,895.8 L499.1,896.5 L499.2,897.2 L499.2,897.9 L499.2,898.6 L499.2,899.3 L499.2,900.0 L499.3,900.7 L499.3,901.4 L499.3,902.1 L499.3,902.8 L499.4,903.5 L499.4,904.2 L499.4,904.9 L499.4,905.6 L499.5,906.3 L499.5,907.0 L499.5,907.7 L499.5,908.4 L499.5,909.1 L499.6,909.8 L499.6,910.5 L499.6,911.2 L499.6,911.9 L499.6,912.6 L499.7,913.3 L499.7,914.0 L499.7,914.7 L499.7,915.4 L499.7,916.1 L499.7,916.8 L499.8,917.5 L499.8,918.2 L499.8,918.9 L499.8,919.6 L499.8,920.3 L499.8,921.0 L499.8,921.7 L499.8,922.4 L499.9,923.1 L499.9,923.8 L499.9,924.5 L499.9,925.2 L499.9,925.9 L499.9,926.6 L499.9,927.3 L499.9,928.0 L499.9,928.7 L499.9,929.4 L499.9,930.1 L499.9,930.8 L499.9,931.5 L499.9,932.2 L499.9,932.9 L499.9,933.6 L499.9,934.3 L499.9,935.0 L499.9,935.7 L499.9,936.4 L499.9,937.1 L500.0,937.8 L500.0,938.5 L500.0,939.2 L500.0,939.9 L500.0,940.6 L500.0,941.3 L500.0,942.0 L500.0,942.7 L500.0,943.4 L500.0,944.1 L500.0,944.8 L500.0,945.5 L500.0,946.2 L500.0,946.9 L500.0,947.6 L500.0,948.3 L500.0,949.0 L500.0,949.7 L500.0,950.4 L500.0,951.1 L500.1,951.8 L500.1,952.5 L500.1,953.2 L500.1,953.9 L500.1,954.6 L500.1,955.3 L500.1,956.0 L500.1,956.7 L500.2,957.4 L500.2,958.1 L500.2,958.8 L500.2,959.5 L500.2,960.2 L500.2,960.9 L500.3,961.6 L500.3,962.3 L500.3,963.0 L500.3,963.7 L500.3,964.4 L500.3,965.1 L500.4,965.8 L500.4,966.5 L500.4,967.2 L500.4,967.9 L500.5,968.6 L500.5,969.3 L500.5,970.0 L500.5,970.7 L500.5,971.4 L500.6,972.1 L500.6,972.8 L500.6,973.5 L500.6,974.2 L500.7,974.9 L500.7,975.6 L500.7,976.3 L500.7,977.0 L500.8,977.7 L500.8,978.4 L500.8,979.1 L500.8,979.8 L500.9,980.5 L500.9,981.2 L500.9,981.9 L500.9,982.6 L501.0,983.3 L501.0,984.0 L501.0,984.7 L501.0,985.4 L501.1,986.1 L501.1,986.8 L501.1,987.5 L501.1,988.2 L501.2,988.9 L501.2,989.6 L501.2,990.3 L501.2,991.0 L501.3,991.7 L501.3,992.4 L501.3,993.1 L501.3,993.8 L501.4,994.5 L501.4,995.2 L501.4,995.9 L501.4,996.6 L501.5,997.3 L501.5,998.0 L501.5,998.7 L501.5,999.4 L501.6,1000.1 L501.6,1000.8 L501.6,1001.5 L501.6,1002.2 L501.7,1002.9 L501.7,1003.6 L501.7,1004.3 L501.7,1005.0 L501.8,1005.7 L501.8,1006.4 L501.8,1007.1 L501.8,1007.8 L501.9,1008.5 L501.9,1009.2 L501.9,1009.9 L501.9,1010.6 L502.0,1011.3 L502.0,1012.0 L502.0,1012.7 L502.0,1013.4 L502.0,1014.1 L502.1,1014.8 L502.1,1015.5 L502.1,1016.2 L502.1,1016.9 L502.2,1017.6 L502.2,1018.3 L502.2,1019.0 L502.2,1019.7 L502.2,1020.4 L502.3,1021.1 L502.3,1021.8 L502.3,1022.5 L502.3,1023.2 L502.3,1023.9 L502.4,1024.6 L502.4,1025.3 L502.4,1026.0 L502.4,1026.7 L502.4,1027.4 L502.4,1028.1 L502.5,1028.8 L502.5,1029.5 L502.5,1030.2 L502.5,1030.9 L502.5,1031.6 L502.5,1032.3 L502.6,1033.0 L502.6,1033.7 L502.6,1034.4 L502.6,1035.1 L502.6,1035.8 L502.6,1036.5 L502.7,1037.2 L502.7,1037.9 L502.7,1038.6 L502.7,1039.3 L502.7,1040.0 L502.7,1040.7 L502.8,1041.4 L502.8,1042.1 L502.8,1042.8 L502.8,1043.5 L502.8,1044.2 L502.8,1044.9 L502.9,1045.6 L502.9,1046.3 L502.9,1047.0 L502.9,1047.7 L502.9,1048.4 L502.9,1049.1 L502.9,1049.8 L503.0,1050.5 L503.0,1051.2 L503.0,1051.9 L503.0,1052.6 L503.0,1053.3 L503.0,1054.0 L503.1,1054.7 L503.1,1055.4 L503.1,1056.1 L503.1,1056.8 L503.1,1057.5 L503.1,1058.2 L503.1,1058.9 L503.2,1059.6 L503.2,1060.3 L503.2,1061.0 L503.2,1061.7 L503.2,1062.4 L503.2,1063.1 L503.2,1063.8 L503.3,1064.5 L503.3,1065.2 L503.3,1065.9 L503.3,1066.6 L503.3,1067.3 L503.3,1068.0 L503.4,1068.7 L503.4,1069.4 L503.4,1070.1 L503.4,1070.8 L503.4,1071.5 L503.4,1072.2 L503.5,1072.9 L503.5,1073.6 L503.5,1074.3 L503.5,1075.0 L503.5,1075.7 L503.5,1076.4 L503.6,1077.1 L503.6,1077.8 L503.6,1078.5 L503.6,1079.2 L503.6,1079.9 L503.6,1080.6 L503.7,1081.3 L503.7,1082.0 L503.7,1082.7 L503.7,1083.4 L503.7,1084.1 L503.7,1084.8 L503.8,1085.5 L503.8,1086.2 L503.8,1086.9 L503.8,1087.6 L503.8,1088.3 L503.8,1089.0 L503.9,1089.7 L503.9,1090.4 L503.9,1091.1 L503.9,1091.8 L503.9,1092.5 L503.9,1093.2 L504.0,1093.9 L504.0,1094.6 L504.0,1095.3 L504.0,1096.0 L504.0,1096.7 L504.0,1097.4 L504.1,1098.1 L504.1,1098.8 L504.1,1099.5 L504.1,1100.2 L504.1,1100.9 L504.1,1101.6 L504.1,1102.3 L504.2,1103.0 L504.2,1103.7 L504.2,1104.4 L504.2,1105.1 L504.2,1105.8 L504.2,1106.5 L504.3,1107.2 L504.3,1107.9 L504.3,1108.6 L504.3,1109.3 L504.3,1110.0 L504.4,1110.7 L504.4,1111.4 L504.4,1112.1 L504.4,1112.8 L504.4,1113.5 L504.4,1114.2 L504.5,1114.9 L504.5,1115.6 L504.5,1116.3 L504.5,1117.0 L504.5,1117.7 L504.6,1118.4 L504.6,1119.1 L504.6,1119.8 L504.6,1120.5 L504.6,1121.2 L504.6,1121.9 L504.7,1122.6 L504.7,1123.3 L504.7,1124.0 L504.7,1124.7 L504.8,1125.4 L504.8,1126.1 L504.8,1126.8 L504.8,1127.4 L504.8,1128.1 L504.9,1128.8 L504.9,1129.5 L504.9,1130.2 L504.9,1130.9 L505.0,1131.6 L505.0,1132.3 L505.0,1133.0 L505.0,1133.7 L505.1,1134.4 L505.1,1135.1 L505.1,1135.8 L505.1,1136.5 L505.2,1137.2 L505.2,1137.9 L505.2,1138.6 L505.2,1139.3 L505.3,1140.0 L505.3,1140.7 L505.3,1141.4 L505.4,1142.1 L505.4,1142.8 L505.4,1143.5 L505.5,1144.2 L505.5,1144.9 L505.5,1145.6 L505.6,1146.3 L505.6,1147.0 L505.6,1147.7 L505.7,1148.4 L505.7,1149.1 L505.7,1149.8 L505.8,1150.5 L505.8,1151.2 L505.8,1151.9 L505.9,1152.6 L505.9,1153.3 L505.9,1154.0 L506.0,1154.7 L506.0,1155.4 L506.0,1156.1 L506.1,1156.8 L506.1,1157.5 L506.2,1158.2 L506.2,1158.9 L506.2,1159.6 L506.3,1160.3 L506.3,1161.0 L506.3,1161.7 L506.4,1162.4 L506.4,1163.1 L506.5,1163.8 L506.5,1164.5 L506.5,1165.2 L506.6,1165.9 L506.6,1166.6 L506.7,1167.3 L506.7,1168.0 L506.7,1168.7 L506.8,1169.4 L506.8,1170.1 L506.9,1170.8 L506.9,1171.5 L506.9,1172.2 L507.0,1172.9 L507.0,1173.6 L507.1,1174.3 L507.1,1175.0 L507.1,1175.7 L507.2,1176.4 L507.2,1177.1 L507.3,1177.8 L507.3,1178.5 L507.3,1179.2 L507.4,1179.9 L507.4,1180.6 L507.5,1181.3 L507.5,1182.0 L507.5,1182.7 L507.6,1183.4 L507.6,1184.1 L507.7,1184.8 L507.7,1185.5 L507.7,1186.2 L507.8,1186.9 L507.8,1187.6 L507.8,1188.3 L507.9,1189.0 L507.9,1189.7 L508.0,1190.4 L508.0,1191.1 L508.0,1191.8 L508.1,1192.5 L508.1,1193.2 L508.1,1193.9 L508.2,1194.6 L508.2,1195.3 L508.2,1196.0 L508.3,1196.7 L508.3,1197.4 L508.4,1198.1 L508.4,1198.8 L508.4,1199.5 L508.5,1200.2 L508.5,1200.9 L508.5,1201.6 L508.6,1202.3 L508.6,1203.0 L508.6,1203.7 L508.7,1204.4 L508.7,1205.1 L508.7,1205.8 L508.8,1206.4 L508.8,1207.1 L508.8,1207.8 L508.9,1208.5 L508.9,1209.2 L508.9,1209.9 L509.0,1210.6 L509.0,1211.3 L509.0,1212.0 L509.1,1212.7 L509.1,1213.4 L509.1,1214.1 L509.1,1214.8 L509.2,1215.5 L509.2,1216.2 L509.2,1216.9 L509.3,1217.6 L509.3,1218.3 L509.3,1219.0 L509.4,1219.7 L509.4,1220.4 L509.4,1221.1 L509.5,1221.8 L509.5,1222.5 L509.5,1223.2 L509.6,1223.9 L509.6,1224.6 L509.6,1225.3 L509.7,1226.0 L509.7,1226.7 L509.7,1227.4 L509.8,1228.1 L509.8,1228.8 L509.8,1229.5 L509.8,1230.2 L509.9,1230.9 L509.9,1231.6 L509.9,1232.3 L510.0,1233.0 L510.0,1233.7 L510.0,1234.4 L510.1,1235.1 L510.1,1235.8 L510.1,1236.5 L510.2,1237.2 L510.2,1237.9 L510.2,1238.6 L510.3,1239.3 L510.3,1240.0 L510.3,1240.7 L510.4,1241.4 L510.4,1242.1 L510.4,1242.8 L510.5,1243.5 L510.5,1244.2 L510.5,1244.9 L510.5,1245.6 L510.6,1246.3 L510.6,1247.0 L510.6,1247.7 L510.6,1248.4 L510.7,1249.1 L510.7,1249.8 L510.7,1250.5 L510.8,1251.2 L510.8,1251.9 L510.8,1252.6 L510.8,1253.3 L510.9,1254.0 L510.9,1254.7 L511.0,1255.4 L511.1,1255.9 L511.2,1255.2 L511.3,1254.5 L511.3,1253.8 L511.3,1253.1 L511.4,1252.4 L511.4,1251.7 L511.4,1251.0 L511.4,1250.3 L511.5,1249.6 L511.5,1248.9 L511.5,1248.2 L511.6,1247.5 L511.6,1246.8 L511.6,1246.1 L511.7,1245.4 L511.7,1244.8 L511.7,1244.1 L511.8,1243.4 L511.8,1242.7 L511.9,1242.0 L511.9,1241.3 L512.0,1240.6 L512.0,1239.9 L512.1,1239.2 L512.1,1238.5 L512.2,1237.8 L512.2,1237.1 L512.3,1236.4 L512.3,1235.7 L512.4,1235.0 L512.5,1234.3 L512.5,1233.6 L512.6,1232.9 L512.6,1232.2 L512.7,1231.5 L512.8,1230.8 L512.8,1230.1 L512.9,1229.4 L512.9,1228.7 L513.0,1228.0 L513.1,1227.3 L513.1,1226.6 L513.2,1225.9 L513.2,1225.2 L513.3,1224.5 L513.4,1223.8 L513.4,1223.1 L513.5,1222.4 L513.5,1221.7 L513.6,1221.0 L513.7,1220.3 L513.7,1219.6 L513.8,1218.9 L513.8,1218.2 L513.9,1217.5 L513.9,1216.8 L514.0,1216.1 L514.1,1215.4 L514.1,1214.7 L514.2,1214.1 L514.2,1213.4 L514.3,1212.7 L514.3,1212.0 L514.4,1211.3 L514.5,1210.6 L514.5,1209.9 L514.6,1209.2 L514.6,1208.5 L514.7,1207.8 L514.7,1207.1 L514.8,1206.4 L514.8,1205.7 L514.9,1205.0 L514.9,1204.3 L515.0,1203.6 L515.0,1202.9 L515.1,1202.2 L515.1,1201.5 L515.2,1200.8 L515.2,1200.1 L515.2,1199.4 L515.3,1198.7 L515.3,1198.0 L515.4,1197.3 L515.4,1196.6 L515.4,1195.9 L515.5,1195.2 L515.5,1194.5 L515.6,1193.8 L515.6,1193.1 L515.6,1192.4 L515.7,1191.7 L515.7,1191.0 L515.7,1190.3 L515.8,1189.6 L515.8,1188.9 L515.8,1188.2 L515.9,1187.5 L515.9,1186.8 L515.9,1186.1 L516.0,1185.4 L516.0,1184.7 L516.0,1184.0 L516.0,1183.3 L516.1,1182.6 L516.1,1181.9 L516.1,1181.2 L516.1,1180.5 L516.2,1179.8 L516.2,1179.1 L516.2,1178.4 L516.2,1177.7 L516.3,1177.0 L516.3,1176.3 L516.3,1175.6 L516.3,1174.9 L516.4,1174.2 L516.4,1173.5 L516.4,1172.8 L516.4,1172.1 L516.5,1171.4 L516.5,1170.7 L516.5,1170.0 L516.5,1169.3 L516.5,1168.6 L516.6,1167.9 L516.6,1167.2 L516.6,1166.5 L516.6,1165.8 L516.7,1165.1 L516.7,1164.4 L516.7,1163.7 L516.7,1163.0 L516.7,1162.3 L516.8,1161.6 L516.8,1160.9 L516.8,1160.2 L516.8,1159.5 L516.8,1158.8 L516.9,1158.1 L516.9,1157.4 L516.9,1156.7 L516.9,1156.0 L516.9,1155.3 L517.0,1154.6 L517.0,1153.9 L517.0,1153.2 L517.0,1152.5 L517.1,1151.8 L517.1,1151.1 L517.1,1150.4 L517.1,1149.7 L517.1,1149.0 L517.2,1148.3 L517.2,1147.6 L517.2,1146.9 L517.2,1146.2 L517.3,1145.5 L517.3,1144.8 L517.3,1144.1 L517.3,1143.4 L517.3,1142.7 L517.4,1142.0 L517.4,1141.3 L517.4,1140.6 L517.4,1139.9 L517.5,1139.2 L517.5,1138.5 L517.5,1137.8 L517.5,1137.1 L517.6,1136.4 L517.6,1135.7 L517.6,1135.0 L517.6,1134.3 L517.7,1133.6 L517.7,1132.9 L517.7,1132.2 L517.7,1131.5 L517.8,1130.8 L517.8,1130.1 L517.8,1129.4 L517.8,1128.7 L517.9,1128.0 L517.9,1127.3 L517.9,1126.6 L518.0,1125.9 L518.0,1125.2 L518.0,1124.5 L518.0,1123.8 L518.1,1123.1 L518.1,1122.4 L518.1,1121.7 L518.1,1121.0 L518.2,1120.3 L518.2,1119.6 L518.2,1118.9 L518.2,1118.2 L518.3,1117.5 L518.3,1116.8 L518.3,1116.1 L518.4,1115.5 L518.4,1114.8 L518.4,1114.1 L518.4,1113.4 L518.5,1112.7 L518.5,1112.0 L518.5,1111.3 L518.5,1110.6 L518.6,1109.9 L518.6,1109.2 L518.6,1108.5 L518.6,1107.8 L518.7,1107.1 L518.7,1106.4 L518.7,1105.7 L518.8,1105.0 L518.8,1104.3 L518.8,1103.6 L518.8,1102.9 L518.9,1102.2 L518.9,1101.5 L518.9,1100.8 L518.9,1100.1 L519.0,1099.4 L519.0,1098.7 L519.0,1098.0 L519.0,1097.3 L519.1,1096.6 L519.1,1095.9 L519.1,1095.2 L519.1,1094.5 L519.2,1093.8 L519.2,1093.1 L519.2,1092.4 L519.2,1091.7 L519.3,1091.0 L519.3,1090.3 L519.3,1089.6 L519.3,1088.9 L519.4,1088.2 L519.4,1087.5 L519.4,1086.8 L519.4,1086.1 L519.5,1085.4 L519.5,1084.7 L519.5,1084.0 L519.5,1083.3 L519.6,1082.6 L519.6,1081.9 L519.6,1081.2 L519.6,1080.5 L519.7,1079.8 L519.7,1079.1 L519.7,1078.4 L519.7,1077.7 L519.8,1077.0 L519.8,1076.3 L519.8,1075.6 L519.8,1074.9 L519.8,1074.2 L519.9,1073.5 L519.9,1072.8 L519.9,1072.1 L519.9,1071.4 L520.0,1070.7 L520.0,1070.0 L520.0,1069.3 L520.0,1068.6 L520.0,1067.9 L520.1,1067.2 L520.1,1066.5 L520.1,1065.8 L520.1,1065.1 L520.2,1064.4 L520.2,1063.7 L520.2,1063.0 L520.2,1062.3 L520.2,1061.6 L520.3,1060.9 L520.3,1060.2 L520.3,1059.5 L520.3,1058.8 L520.3,1058.1 L520.4,1057.4 L520.4,1056.7 L520.4,1056.0 L520.4,1055.3 L520.4,1054.6 L520.5,1053.9 L520.5,1053.2 L520.5,1052.5 L520.5,1051.8 L520.5,1051.1 L520.6,1050.4 L520.6,1049.7 L520.6,1049.0 L520.6,1048.3 L520.7,1047.6 L520.7,1046.9 L520.7,1046.2 L520.7,1045.5 L520.7,1044.8 L520.8,1044.1 L520.8,1043.4 L520.8,1042.7 L520.8,1042.0 L520.8,1041.3 L520.9,1040.6 L520.9,1039.9 L520.9,1039.2 L520.9,1038.5 L520.9,1037.8 L521.0,1037.1 L521.0,1036.4 L521.0,1035.7 L521.0,1035.0 L521.0,1034.3 L521.1,1033.6 L521.1,1032.9 L521.1,1032.2 L521.1,1031.5 L521.1,1030.8 L521.2,1030.1 L521.2,1029.4 L521.2,1028.7 L521.2,1028.0 L521.2,1027.3 L521.3,1026.6 L521.3,1025.9 L521.3,1025.2 L521.3,1024.5 L521.4,1023.8 L521.4,1023.1 L521.4,1022.4 L521.4,1021.7 L521.4,1021.0 L521.5,1020.3 L521.5,1019.6 L521.5,1018.9 L521.5,1018.2 L521.6,1017.5 L521.6,1016.8 L521.6,1016.1 L521.6,1015.4 L521.6,1014.7 L521.7,1014.0 L521.7,1013.3 L521.7,1012.6 L521.7,1011.9 L521.8,1011.2 L521.8,1010.5 L521.8,1009.8 L521.8,1009.1 L521.8,1008.4 L521.9,1007.7 L521.9,1007.0 L521.9,1006.3 L521.9,1005.6 L522.0,1004.9 L522.0,1004.2 L522.0,1003.5 L522.0,1002.8 L522.1,1002.1 L522.1,1001.4 L522.1,1000.7 L522.1,1000.0 L522.2,999.3 L522.2,998.6 L522.2,997.9 L522.2,997.2 L522.2,996.5 L522.3,995.8 L522.3,995.1 L522.3,994.4 L522.3,993.7 L522.4,993.0 L522.4,992.3 L522.4,991.6 L522.4,990.9 L522.5,990.2 L522.5,989.5 L522.5,988.8 L522.5,988.1 L522.6,987.4 L522.6,986.7 L522.6,986.0 L522.6,985.3 L522.6,984.6 L522.7,983.9 L522.7,983.2 L522.7,982.5 L522.7,981.8 L522.8,981.1 L522.8,980.4 L522.8,979.7 L522.8,979.0 L522.9,978.3 L522.9,977.6 L522.9,976.9 L522.9,976.2 L523.0,975.5 L523.0,974.8 L523.0,974.1 L523.0,973.4 L523.1,972.7 L523.1,972.0 L523.1,971.3 L523.1,970.6 L523.2,969.9 L523.2,969.2 L523.2,968.5 L523.2,967.8 L523.2,967.1 L523.3,966.4 L523.3,965.7 L523.3,965.0 L523.3,964.3 L523.4,963.6 L523.4,962.9 L523.4,962.2 L523.4,961.5 L523.5,960.8 L523.5,960.1 L523.5,959.4 L523.5,958.7 L523.6,958.0 L523.6,957.3 L523.6,956.6 L523.6,955.9 L523.6,955.2 L523.7,954.5 L523.7,953.8 L523.7,953.1 L523.7,952.4 L523.8,951.7 L523.8,951.0 L523.8,950.3 L523.8,949.6 L523.9,948.9 L523.9,948.2 L523.9,947.5 L523.9,946.8 L524.0,946.1 L524.0,945.4 L524.0,944.7 L524.0,944.0 L524.1,943.3 L524.1,942.6 L524.1,941.9 L524.1,941.2 L524.1,940.5 L524.2,939.8 L524.2,939.1 L524.2,938.4 L524.2,937.7 L524.3,937.0 L524.3,936.3 L524.3,935.6 L524.3,934.9 L524.4,934.3 L524.4,933.6 L524.4,932.9 L524.4,932.2 L524.5,931.5 L524.5,930.8 L524.5,930.1 L524.5,929.4 L524.6,928.7 L524.6,928.0 L524.6,927.3 L524.6,926.6 L524.6,925.9 L524.7,925.2 L524.7,924.5 L524.7,923.8 L524.7,923.1 L524.8,922.4 L524.8,921.7 L524.8,921.0 L524.8,920.3 L524.9,919.6 L524.9,918.9 L524.9,918.2 L524.9,917.5 L525.0,916.8 L525.0,916.1 L525.0,915.4 L525.0,914.7 L525.0,914.0 L525.1,913.3 L525.1,912.6 L525.1,911.9 L525.1,911.2 L525.2,910.5 L525.2,909.8 L525.2,909.1 L525.2,908.4 L525.3,907.7 L525.3,907.0 L525.3,906.3 L525.3,905.6 L525.3,904.9 L525.4,904.2 L525.4,903.5 L525.4,902.8 L525.4,902.1 L525.5,901.4 L525.5,900.7 L525.5,900.0 L525.5,899.3 L525.5,898.6 L525.6,897.9 L525.6,897.2 L525.6,896.5 L525.6,895.8 L525.7,895.1 L525.7,894.4 L525.7,893.7 L525.7,893.0 L525.7,892.3 L525.8,891.6 L525.8,890.9 L525.8,890.2 L525.8,889.5 L525.8,888.8 L525.9,888.1 L525.9,887.4 L525.9,886.7 L525.9,886.0 L525.9,885.3 L526.0,884.6 L526.0,883.9 L526.0,883.2 L526.0,882.5 L526.0,881.8 L526.1,881.1 L526.1,880.4 L526.1,879.7 L526.1,879.0 L526.1,878.3 L526.2,877.6 L526.2,876.9 L526.2,876.2 L526.2,875.5 L526.2,874.8 L526.2,874.1 L526.3,873.4 L526.3,872.7 L526.3,872.0 L526.3,871.3 L526.3,870.6 L526.4,869.9 L526.4,869.2 L526.4,868.5 L526.4,867.8 L526.4,867.1 L526.5,866.4 L526.5,865.7 L526.5,865.0 L526.5,864.3 L526.5,863.6 L526.6,862.9 L526.6,862.2 L526.6,861.5 L526.6,860.8 L526.6,860.1 L526.7,859.4 L526.7,858.7 L526.7,858.0 L526.7,857.3 L526.8,856.6 L526.8,855.9 L526.8,855.2 L526.8,854.5 L526.8,853.8 L526.9,853.1 L526.9,852.4 L526.9,851.7 L526.9,851.0 L526.9,850.3 L527.0,849.6 L527.0,848.9 L527.0,848.2 L527.0,847.5 L527.1,846.8 L527.1,846.1 L527.1,845.4 L527.1,844.7 L527.2,844.0 L527.2,843.3 L527.2,842.6 L527.2,841.9 L527.2,841.2 L527.3,840.5 L527.3,839.8 L527.3,839.1 L527.3,838.4 L527.4,837.7 L527.4,837.0 L527.4,836.3 L527.4,835.6 L527.5,834.9 L527.5,834.2 L527.5,833.5 L527.5,832.8 L527.6,832.1 L527.6,831.4 L527.6,830.7 L527.6,830.0 L527.6,829.3 L527.7,828.6 L527.7,827.9 L527.7,827.2 L527.7,826.5 L527.8,825.8 L527.8,825.1 L527.8,824.4 L527.8,823.7 L527.9,823.0 L527.9,822.3 L527.9,821.6 L527.9,820.9 L527.9,820.2 L528.0,819.5 L528.0,818.8 L528.0,818.1 L528.0,817.4 L528.1,816.7 L528.1,816.0 L528.1,815.3 L528.1,814.6 L528.1,813.9 L528.2,813.2 L528.2,812.5 L528.2,811.8 L528.2,811.1 L528.3,810.4 L528.3,809.7 L528.3,809.0 L528.3,808.3 L528.4,807.6 L528.4,806.9 L528.4,806.2 L528.4,805.5 L528.4,804.8 L528.5,804.1 L528.5,803.4 L528.5,802.7 L528.5,802.0 L528.6,801.3 L528.6,800.6 L528.6,799.9 L528.6,799.2 L528.7,798.5 L528.7,797.8 L528.7,797.1 L528.7,796.4 L528.7,795.7 L528.8,795.0 L528.8,794.3 L528.8,793.6 L528.8,792.9 L528.9,792.2 L528.9,791.5 L528.9,790.8 L528.9,790.1 L529.0,789.4 L529.0,788.7 L529.0,788.0 L529.0,787.3 L529.0,786.6 L529.1,785.9 L529.1,785.2 L529.1,784.5 L529.1,783.8 L529.2,783.1 L529.2,782.4 L529.2,781.7 L529.2,781.0 L529.2,780.3 L529.3,779.6 L529.3,778.9 L529.3,778.2 L529.3,777.5 L529.4,776.8 L529.4,776.1 L529.4,775.4 L529.4,774.7 L529.4,774.0 L529.5,773.3 L529.5,772.6 L529.5,771.9 L529.5,771.2 L529.6,770.5 L529.6,769.8 L529.6,769.1 L529.6,768.4 L529.6,767.7 L529.7,767.0 L529.7,766.3 L529.7,765.6 L529.7,764.9 L529.7,764.2 L529.8,763.5 L529.8,762.8 L529.8,762.1 L529.8,761.4 L529.8,760.7 L529.9,760.0 L529.9,759.3 L529.9,758.6 L529.9,757.9 L529.9,757.2 L529.9,756.5 L530.0,755.8 L530.0,755.1 L530.0,754.4 L530.0,753.7 L530.0,753.0 L530.1,752.3 L530.1,751.6 L530.1,750.9 L530.1,750.2 L530.1,749.5 L530.2,748.8 L530.2,748.1 L530.2,747.4 L530.2,746.7 L530.2,746.0 L530.2,745.3 L530.3,744.6 L530.3,743.9 L530.3,743.2 L530.3,742.5 L530.3,741.8 L530.4,741.1 L530.4,740.4 L530.4,739.7 L530.4,739.0 L530.4,738.3 L530.4,737.6 L530.5,736.9 L530.5,736.2 L530.5,735.5 L530.5,734.8 L530.5,734.1 L530.6,733.4 L530.6,732.7 L530.6,732.0 L530.6,731.3 L530.6,730.6 L530.7,729.9 L530.7,729.2 L530.7,728.5 L530.7,727.8 L530.7,727.1 L530.8,726.4 L530.8,725.8 L530.8,725.1 L530.8,724.4 L530.9,723.7 L530.9,723.0 L530.9,722.3 L530.9,721.6 L530.9,720.9 L531.0,720.2 L531.0,719.5 L531.0,718.8 L531.0,718.1 L531.1,717.4 L531.1,716.7 L531.1,716.0 L531.1,715.3 L531.2,714.6 L531.2,713.9 L531.2,713.2 L531.3,712.5 L531.3,711.8 L531.3,711.1 L531.3,710.4 L531.4,709.7 L531.4,709.0 L531.4,708.3 L531.5,707.6 L531.5,706.9 L531.5,706.2 L531.5,705.5 L531.6,704.8 L531.6,704.1 L531.6,703.4 L531.7,702.7 L531.7,702.0 L531.7,701.3 L531.8,700.6 L531.8,699.9 L531.8,699.2 L531.8,698.5 L531.9,697.8 L531.9,697.1 L531.9,696.4 L532.0,695.7 L532.0,695.0 L532.0,694.3 L532.1,693.6 L532.1,692.9 L532.1,692.2 L532.2,691.5 L532.2,690.8 L532.2,690.1 L532.2,689.4 L532.3,688.7 L532.3,688.0 L532.3,687.3 L532.4,686.6 L532.4,685.9 L532.4,685.2 L532.5,684.5 L532.5,683.8 L532.5,683.1 L532.5,682.4 L532.6,681.7 L532.6,681.0 L532.6,680.3 L532.7,679.6 L532.7,678.9 L532.7,678.2 L532.7,677.5 L532.8,676.8 L532.8,676.1 L532.8,675.4 L532.8,674.7 L532.9,674.0 L532.9,673.3 L532.9,672.6 L532.9,671.9 L532.9,671.2 L533.0,670.5 L533.0,669.8 L533.0,669.1 L533.0,668.4 L533.1,667.7 L533.1,667.0 L533.1,666.3 L533.1,665.6 L533.1,664.9 L533.1,664.2 L533.2,663.5 L533.2,662.8 L533.2,662.1 L533.2,661.4 L533.2,660.7 L533.2,660.0 L533.3,659.3 L533.3,658.6 L533.3,657.9 L533.3,657.2 L533.3,656.5 L533.3,655.8 L533.3,655.1 L533.3,654.4 L533.4,653.7 L533.4,653.0 L533.4,652.3 L533.4,651.6 L533.4,650.9 L533.4,650.2 L533.4,649.5 L533.4,648.8 L533.5,648.1 L533.5,647.4 L533.5,646.7 L533.5,646.0 L533.5,645.3 L533.5,644.6 L533.5,643.9 L533.5,643.2 L533.5,642.5 L533.6,641.8 L533.6,641.1 L533.6,640.4 L533.6,639.7 L533.6,639.0 L533.6,638.3 L533.6,637.6 L533.6,636.9 L533.6,636.2 L533.7,635.5 L533.7,634.8 L533.7,634.1 L533.7,633.4 L533.7,632.7 L533.7,632.0 L533.7,631.3 L533.7,630.6 L533.8,629.9 L533.8,629.2 L533.8,628.5 L533.8,627.8 L533.8,627.1 L533.8,626.4 L533.8,625.7 L533.9,625.0 L533.9,624.3 L533.9,623.6 L533.9,622.9 L533.9,622.2 L534.0,621.5 L534.0,620.8 L534.0,620.1 L534.0,619.4 L534.0,618.7 L534.1,618.0 L534.1,617.3 L534.1,616.6 L534.1,615.9 L534.2,615.2 L534.2,614.5 L534.2,613.8 L534.2,613.1 L534.3,612.4 L534.3,611.7 L534.3,611.0 L534.3,610.3 L534.4,609.6 L534.4,608.9 L534.4,608.2 L534.5,607.5 L534.5,606.8 L534.5,606.1 L534.6,605.4 L534.6,604.7 L534.6,604.0 L534.7,603.3 L534.7,602.6 L534.7,601.9 L534.7,601.2 L534.8,600.5 L534.8,599.8 L534.8,599.1 L534.9,598.4 L534.9,597.7 L534.9,597.0 L535.0,596.3 L535.0,595.6 L535.0,594.9 L535.1,594.2 L535.1,593.5 L535.1,592.8 L535.2,592.1 L535.2,591.4 L535.2,590.7 L535.3,590.0 L535.3,589.3 L535.3,588.6 L535.4,587.9 L535.4,587.2 L535.4,586.5 L535.5,585.8 L535.5,585.1 L535.5,584.4 L535.6,583.7 L535.6,583.0 L535.6,582.3 L535.7,581.6 L535.7,580.9 L535.7,580.2 L535.7,579.5 L535.8,578.8 L535.8,578.1 L535.8,577.4 L535.9,576.7 L535.9,576.0 L535.9,575.3 L535.9,574.6 L536.0,573.9 L536.0,573.2 L536.0,572.5 L536.0,571.8 L536.1,571.1 L536.1,570.4 L536.1,569.7 L536.1,569.1 L536.2,568.4 L536.2,567.7 L536.2,567.0 L536.2,566.3 L536.3,565.6 L536.3,564.9 L536.3,564.2 L536.3,563.5 L536.4,562.8 L536.4,562.1 L536.4,561.4 L536.4,560.7 L536.5,560.0 L536.5,559.3 L536.5,558.6 L536.5,557.9 L536.5,557.2 L536.6,556.5 L536.6,555.8 L536.6,555.1 L536.6,554.4 L536.7,553.7 L536.7,553.0 L536.7,552.3 L536.7,551.6 L536.8,550.9 L536.8,550.2 L536.8,549.5 L536.8,548.8 L536.9,548.1 L536.9,547.4 L536.9,546.7 L536.9,546.0 L537.0,545.3 L537.0,544.6 L537.0,543.9 L537.0,543.2 L537.1,542.5 L537.1,541.8 L537.1,541.1 L537.1,540.4 L537.2,539.7 L537.2,539.0 L537.2,538.3 L537.2,537.6 L537.3,536.9 L537.3,536.2 L537.3,535.5 L537.3,534.8 L537.4,534.1 L537.4,533.4 L537.4,532.7 L537.4,532.0 L537.5,531.3 L537.5,530.6 L537.5,529.9 L537.5,529.2 L537.6,528.5 L537.6,527.8 L537.6,527.1 L537.6,526.4 L537.7,525.7 L537.7,525.0 L537.7,524.3 L537.7,523.6 L537.8,522.9 L537.8,522.2 L537.8,521.5 L537.8,520.8 L537.9,520.1 L537.9,519.4 L537.9,518.7 L537.9,518.0 L538.0,517.3 L538.0,516.6 L538.0,515.9 L538.0,515.2 L538.1,514.5 L538.1,513.8 L538.1,513.1 L538.2,512.4 L538.2,511.7 L538.2,511.0 L538.2,510.3 L538.3,509.6 L538.3,508.9 L538.3,508.2 L538.4,507.5 L538.4,506.8 L538.4,506.1 L538.5,505.4 L538.5,504.7 L538.5,504.0 L538.6,503.3 L538.6,502.6 L538.6,501.9 L538.7,501.2 L538.7,500.5 L538.7,499.8 L538.8,499.1 L538.8,498.4 L538.9,497.7 L538.9,497.0 L538.9,496.3 L539.0,495.6 L539.0,494.9 L539.1,494.2 L539.1,493.5 L539.2,492.8 L539.2,492.1 L539.2,491.4 L539.3,490.7 L539.3,490.0 L539.4,489.3 L539.4,488.6 L539.5,487.9 L539.5,487.2 L539.6,486.5 L539.6,485.8 L539.7,485.1 L539.7,484.4 L539.8,483.7 L539.8,483.0 L539.9,482.3 L539.9,481.6 L540.0,480.9 L540.0,480.2 L540.1,479.5 L540.1,478.8 L540.2,478.1 L540.2,477.4 L540.3,476.8 L540.3,476.1 L540.4,475.4 L540.4,474.7 L540.5,474.0 L540.5,473.3 L540.6,472.6 L540.6,471.9 L540.7,471.2 L540.8,470.5 L540.8,469.8 L540.9,469.1 L540.9,468.4 L541.0,467.7 L541.0,467.0 L541.1,466.3 L541.2,465.6 L541.2,464.9 L541.3,464.2 L541.3,463.5 L541.4,462.8 L541.4,462.1 L541.5,461.4 L541.6,460.7 L541.6,460.0 L541.7,459.3 L541.7,458.6 L541.8,457.9 L541.9,457.2 L541.9,456.5 L542.0,455.8 L542.1,455.1 L542.1,454.4 L542.2,453.7 L542.2,453.0 L542.3,452.3 L542.4,451.6 L542.4,450.9 L542.5,450.2 L542.6,449.5 L542.6,448.9 L542.7,448.2 L542.8,447.5 L542.8,446.8 L542.9,446.1 L543.0,445.4 L543.0,444.7 L543.1,444.0 L543.2,443.3 L543.2,442.6 L543.3,441.9 L543.4,441.2 L543.4,440.5 L543.5,439.8 L543.6,439.1 L543.7,438.4 L543.7,437.7 L543.8,437.0 L543.9,436.3 L543.9,435.6 L544.0,434.9 L544.1,434.2 L544.2,433.5 L544.2,432.8 L544.3,432.1 L544.4,431.4 L544.4,430.7 L544.5,430.0 L544.6,429.3 L544.7,428.7 L544.7,428.0 L544.8,427.3 L544.9,426.6 L545.0,425.9 L545.1,425.2 L545.1,424.5 L545.2,423.8 L545.3,423.1 L545.4,422.4 L545.4,421.7 L545.5,421.0 L545.6,420.3 L545.7,419.6 L545.8,418.9 L545.8,418.2 L545.9,417.5 L546.0,416.8 L546.1,416.1 L546.1,415.4 L546.2,414.7 L546.3,414.0 L546.4,413.3 L546.4,412.7 L546.5,412.0 L546.6,411.3 L546.7,410.6 L546.7,409.9 L546.8,409.2 L546.9,408.5 L547.0,407.8 L547.1,407.1 L547.1,406.4 L547.2,405.7 L547.3,405.0 L547.4,404.3 L547.5,403.6 L547.5,402.9 L547.6,402.2 L547.7,401.5 L547.8,400.8 L547.9,400.1 L548.0,399.4 L548.1,398.8 L548.2,398.1 L548.3,397.4 L548.4,396.7 L548.5,396.0 L548.6,395.3 L548.7,394.6 L548.9,393.9 L549.0,393.2 L549.1,392.5 L549.2,391.8 L549.4,391.2 L549.5,390.5 L549.7,389.8 L550.3,389.2 L549.8,389.5 L550.1,388.2 L550.1,388.3 L550.9,387.3 L551.4,386.4 L551.2,385.6 L551.5,384.9 L551.3,384.1 L551.9,383.3 L551.4,381.8 L551.5,382.1 L551.8,381.0 L552.7,380.1 L552.9,378.6 L553.8,376.9 L552.6,376.8 L553.9,377.8 L553.1,377.2 L554.2,375.4 L554.3,375.0 L554.1,374.3 L555.1,371.8 L554.9,372.3 L555.4,371.7 L554.8,369.8 L553.9,370.0 L555.7,371.1 L554.5,367.8 L556.1,369.0 L555.3,368.1 L555.5,368.9 L555.3,368.0 L556.6,367.8 L556.5,369.1 L556.9,368.7 L555.8,364.2 L557.9,363.6 L558.7,364.7 L559.4,361.6 L557.7,359.7 L560.1,359.7 L558.4,360.2 L558.2,359.3 L557.4,356.9 L559.6,357.8 L559.7,356.8 L558.3,358.3 L561.4,358.4 L559.9,357.2 L560.8,354.1 L561.1,354.0 L562.5,352.9 L562.0,352.1 L562.4,351.0 L563.7,350.7 L561.1,351.4 L564.0,353.0 L563.9,352.3 L562.3,347.4 L562.3,345.5 L564.7,348.0 L563.4,345.4 L563.0,346.1 L566.2,344.2 L564.2,344.6 L565.6,342.4 L564.1,345.7 L564.8,342.7 L568.5,343.0 L568.6,346.0 L569.5,348.4 L566.9,346.8 L568.3,346.1 L569.0,346.2 L568.0,345.3 L569.5,338.4 L570.8,342.7 L568.8,343.5 L570.3,342.2 L573.3,335.9 L574.4,339.7 L572.8,335.8 L574.7,336.8 L575.1,339.8 L572.7,338.7 L572.2,332.7 L574.3,338.1 L573.2,335.1 L575.0,337.5 L575.1,336.2 L575.0,336.4 L577.9,329.9 L578.3,329.1 L577.3,331.1 L577.4,330.4 L577.9,329.9 L580.5,327.1 L577.9,330.1 L579.9,327.1 L581.2,325.0 L580.9,323.6 L579.0,327.2 L582.1,323.8 L584.9,325.7 L585.1,320.1 L583.7,322.4 L583.7,324.0 L586.4,318.9 L583.4,325.3 L584.5,321.4 L584.4,322.2 L585.3,324.9 L584.9,321.6 L587.1,322.0 L588.0,322.5 L589.0,321.0 L586.3,319.3 L587.3,318.3 L590.8,318.8 L589.0,318.2 L591.6,317.9 L589.5,315.6 L592.9,314.6 L590.9,316.4 L594.3,315.9 L592.9,318.7 L592.6,314.6 L596.4,312.6 L597.0,317.3 L595.6,315.0 L594.5,311.8 L597.9,315.0 L594.7,310.9 L598.7,310.1 L596.6,312.3 L599.6,311.4 L597.7,312.9 L600.4,310.3 L599.3,309.2 L599.2,309.1 L601.7,309.8 L598.5,306.6 L598.8,307.5 L600.6,305.9 L600.8,302.8 L603.3,303.3 L602.7,300.8 L599.7,303.4 L602.1,301.0 L605.3,302.5 L606.3,301.8 L602.9,301.2 L603.4,296.1 L607.1,300.9 L604.0,295.2 L606.3,295.6 L607.5,298.4 L609.3,297.3 L607.3,297.9 L609.6,295.1 L610.3,298.0 L611.1,295.1 L611.3,296.2 L608.2,293.0 L611.7,295.9 L612.9,296.7 L613.4,294.3 L613.8,289.5 L613.5,289.1 L614.9,291.5 L613.4,292.9 L613.9,286.5 L613.8,289.2 L617.6,289.3 L615.0,287.4 L615.2,285.9 L614.9,284.2 L616.4,289.2 L618.1,285.2 L620.3,284.5 L620.3,289.0 L622.3,285.7 L620.9,287.0 L621.5,285.0 L621.6,282.1 L621.6,282.0 L622.4,282.1 L624.8,285.1 L625.2,284.8 L624.0,283.0 L626.8,285.0 L625.6,281.0 L628.9,286.4 L629.1,281.7 L626.1,284.9 L630.6,279.7 L629.5,282.6 L627.1,280.1 L628.0,280.1 L629.9,280.6 L629.0,279.0 L630.7,279.9 L633.2,274.7 L631.8,276.7 L633.4,273.9 L632.1,276.3 L633.9,277.5 L635.0,275.6 L638.9,275.5 L638.3,275.5 L639.2,277.2 L639.5,276.2 L637.4,274.7 L640.1,274.7 L640.8,275.1 L642.9,269.1 L643.0,274.9 L640.1,273.4 L643.3,269.7 L643.3,272.7 L642.4,268.8 L644.3,270.6 L643.2,272.3 L641.2,268.0 L644.6,268.4 L642.3,268.1 L643.5,270.2 L645.5,270.8 L647.8,271.2 L647.8,269.7 L647.2,267.5 L646.5,266.5 L649.4,264.3 L648.1,263.2 L650.2,262.7 L649.3,261.8 L649.7,262.3 L651.6,261.4 L652.7,261.3 L654.5,260.1 L655.7,260.7 L653.8,263.0 L656.1,263.7 L653.7,263.0 L655.3,265.4 L658.0,264.0 L659.6,263.9 L656.0,261.3 L657.2,261.6 L657.7,259.1 L660.8,258.3 L661.8,259.6 L660.3,256.4 L662.5,257.0 L663.0,256.7 L663.4,258.1 L663.2,253.1 L664.7,254.6 L663.9,252.2 L664.9,256.5 L668.1,254.7 L667.7,257.8 L666.3,256.2 L668.9,255.9 L669.8,254.4 L668.1,254.0 L671.5,252.8 L672.1,252.6 L673.4,254.8 L673.8,253.1 L673.3,251.6 L676.9,252.5 L677.0,254.0 L676.7,254.1 L677.8,249.4 L676.7,249.6 L678.0,253.0 L678.8,249.7 L677.9,249.4 L681.7,248.4 L678.7,248.2 L678.9,250.5 L681.1,249.5 L681.4,248.4 L683.6,251.5 L682.7,252.1 L681.0,250.9 L684.9,252.5 L685.0,250.8 L684.2,250.1 L685.5,250.3 L688.3,247.3 L686.6,247.7 L688.2,247.6 L686.6,248.2 L690.2,249.4 L688.5,245.7 L691.1,244.8 L689.9,244.5 L691.7,245.9 L692.4,243.4 L692.0,247.4 L692.3,247.7 L693.7,245.4 L696.0,247.1 L695.9,243.8 L696.5,244.8 L695.3,243.9 L697.1,242.9 L696.1,239.8 L697.5,242.0 L696.5,242.7 L698.0,236.9 L698.4,237.1 L698.2,238.7 L698.5,234.2 L698.1,235.5 L701.6,238.9 L698.9,235.8 L702.5,235.7 L703.4,233.0 L701.9,234.1 L701.2,236.4 L705.0,233.4 L704.4,236.2 L703.8,236.2 L704.6,236.9 L707.5,233.9 L707.0,230.7 L708.7,229.4 L705.9,230.6 L708.2,230.9 L710.0,231.4 L710.9,228.3 L710.5,228.2 L712.1,227.9 L715.2,231.0 L714.5,228.7 L715.6,229.4 L716.1,230.2 L715.4,227.5 L716.8,229.1 L718.7,225.4 L717.5,225.4 L716.6,225.3 L716.3,229.2 L718.2,225.7 L719.9,227.3 L720.4,224.0 L719.7,225.1 L721.7,225.8 L720.9,223.1 L719.7,222.9 L720.6,221.5 L723.5,225.4 L722.2,223.4 L724.6,221.1 L726.0,222.1 L726.3,224.2 L724.9,226.5 L727.5,220.4 L727.3,219.3 L730.0,221.5 L730.5,223.3 L730.6,222.7 L732.1,220.2 L730.2,219.0 L731.8,219.0 L732.3,217.6 L733.2,221.7 L732.3,220.9 L735.0,217.5 L734.4,217.2 L736.0,216.1 L735.0,220.4 L735.0,216.7 L735.6,219.9 L737.3,214.0 L739.1,216.5 L741.5,214.6 L739.0,217.7 L742.9,214.7 L743.3,213.3 L744.1,218.6 L741.9,217.7 L741.9,211.9 L744.5,213.2 L743.0,211.1 L744.1,214.5 L745.3,208.9 L748.3,209.0 L745.4,209.3 L746.3,210.3 L749.6,211.4 L747.7,211.9 L749.2,213.6 L747.6,213.8 L751.8,213.2 L753.3,208.7 L753.3,209.3 L750.9,212.7 L755.4,212.8 L754.0,212.8 L757.4,211.8 L757.4,207.0 L755.5,211.6 L758.5,209.3 L760.1,210.1 L757.9,206.1 L757.3,211.2 L759.5,209.0 L761.1,206.1 L762.1,208.9 L763.9,207.6 L763.5,208.8 L765.1,205.0 L766.0,208.9 L764.0,207.6 L766.5,206.0 L766.5,204.8 L768.1,205.9 L765.5,207.7 L767.6,207.9 L769.4,205.3 L767.7,203.0 L769.2,205.4 L768.9,204.6 L771.9,207.1 L773.7,208.7 L774.4,207.9 L773.0,205.3 L773.7,202.0 L774.8,204.3 L775.7,208.7 L775.0,206.5 L775.3,205.4 L779.2,203.4 L780.7,202.9 L779.7,205.8 L780.0,205.8 L778.9,202.5 L779.1,202.3 L780.0,204.0 L782.9,200.3 L783.8,201.5 L783.7,205.8 L783.7,201.8 L785.4,201.7 L786.0,206.6 L784.1,203.7 L787.8,202.3 L785.7,208.8 L788.5,208.1 L789.0,207.6 L788.3,206.4 L789.2,208.9 L791.4,206.6 L791.2,209.0 L792.5,207.1 L792.6,204.2 L794.3,211.0 L791.5,208.9 L795.5,209.6 L795.1,207.5 L797.9,208.3 L796.8,212.3 L796.8,207.4 L798.7,208.1 L800.8,212.5 L798.5,208.7 L799.7,207.9 L799.7,207.3 L804.1,209.9 L802.1,211.2 L802.9,207.0 L803.4,209.1 L806.0,212.2 L805.8,206.9 L804.2,211.0 L806.4,211.3 L806.6,206.5 L808.0,208.9 L807.4,209.0 L809.1,210.4 L811.4,208.4 L809.7,211.0 L809.8,207.8 L810.4,213.1 L811.6,208.2 L815.3,213.9 L813.9,212.5 L815.1,212.3 L815.9,211.8 L815.5,214.3 L815.1,210.9 L818.7,213.8 L819.2,209.9 L818.7,214.7 L818.2,215.0 L820.4,214.9 L822.2,217.3 L822.1,214.6 L824.1,219.2 L824.9,214.8 L823.0,219.6 L824.6,218.9 L827.7,216.0 L826.6,219.1 L827.6,218.7 L828.4,217.2 L828.5,221.6 L828.7,217.6 L830.2,214.4 L828.5,217.7 L829.9,218.4 L832.7,221.6 L831.0,215.5 L832.2,217.2 L831.6,221.3 L832.3,217.2 L833.2,217.1 L833.2,217.5 L835.6,219.0 L834.0,220.6 L834.9,219.6 L836.7,223.8 L839.5,225.8 L838.5,223.8 L840.4,223.1 L838.8,227.0 L838.7,226.8 L841.8,224.8 L842.5,228.2 L842.5,230.0 L843.0,230.2 L845.1,231.3 L842.8,230.7 L845.5,229.0 L844.5,230.3 L845.9,228.1 L846.7,230.8 L848.9,225.4 L847.3,226.0 L849.7,227.3 L847.8,227.3 L846.6,226.6 L849.6,224.9 L848.9,227.2 L848.5,227.9 L849.9,228.4 L852.7,232.6 L851.3,230.6 L853.2,229.7 L852.6,232.2 L854.5,230.3 L852.1,233.7 L855.2,229.5 L854.7,232.6 L857.9,232.6 L857.5,230.9 L860.1,231.7 L860.0,230.1 L860.8,233.6 L860.2,228.6 L860.2,229.3 L863.5,231.5 L862.3,231.1 L862.8,234.5 L865.3,232.0 L866.7,234.0 L865.3,235.2 L866.6,237.1 L870.0,232.8 L870.2,232.1 L869.4,231.3 L868.9,235.0 L870.0,233.4 L871.2,236.3 L871.7,231.5 L870.2,234.5 L873.2,234.4 L873.4,239.2 L873.7,240.1 L873.8,234.8 L873.9,240.3 L875.2,239.9 L874.1,236.1 L878.0,237.9 L874.9,241.1 L876.3,237.7 L879.1,237.9 L878.1,237.0 L878.9,240.4 L880.6,239.8 L880.6,235.3 L882.7,239.0 L881.2,238.5 L880.9,236.5 L885.0,238.4 L885.0,238.2 L885.0,238.9 L886.8,241.6 L887.6,238.5 L887.1,236.2 L889.1,235.2 L887.0,234.7 L887.5,237.2 L889.8,236.4 L889.7,232.0 L889.0,234.5 L890.1,235.3 L891.0,236.6 L891.3,234.5 L893.9,232.2 L893.7,232.6 L897.4,233.9 L898.2,229.9 L898.9,231.7 L897.2,229.3 L898.3,230.2 L900.4,229.1 L897.4,230.6 L900.6,227.7 L902.9,230.1 L900.5,229.7 L901.2,232.3 L905.3,231.0 L902.8,231.3 L904.3,230.5 L904.2,229.7 L904.5,231.8 L904.6,225.9 L906.4,225.0 L909.3,227.1 L906.6,228.3 L907.3,225.5 L910.5,227.8 L908.9,222.7 L910.3,222.8 L912.8,224.1 L912.2,225.8 L909.6,222.6 L913.2,221.6 L912.1,219.7 L911.0,220.1 L911.9,218.6 L912.3,219.5 L912.4,217.6 L913.0,215.6 L914.7,219.6 L912.5,216.2 L916.7,216.6 L914.8,217.7 L917.8,219.5 L918.7,214.9 L916.4,214.8 L915.0,216.3 L916.6,213.1 L919.0,215.3 L915.2,214.5 L916.3,214.7 L918.8,211.8 L919.5,210.2 L919.0,210.6 L920.7,207.4 L919.9,210.3 L921.4,210.3 L922.7,206.3 L922.8,210.7 L924.5,209.9 L923.6,209.5 L924.7,209.5 L925.4,209.4 L926.5,203.1 L926.0,208.3 L927.0,205.1 L925.6,206.7 L929.1,205.4 L928.2,203.9 L930.4,207.0 L928.4,204.1 L931.5,205.5 L930.8,204.0 L931.8,204.5 L933.9,204.8 L933.1,205.4 L935.9,204.1 L935.6,204.1 L933.7,201.4 L937.3,204.8 L937.1,204.6 L936.6,203.9 L935.9,204.1 L935.4,200.6 L938.1,198.9 L938.6,198.4 L938.9,202.1 L940.8,200.0 L939.2,202.1 L938.9,198.8 L941.6,195.0 L940.5,194.9 L940.2,192.9 L943.1,195.4 L943.4,194.4 L942.5,193.3 L943.6,190.9 L942.7,191.4 L944.5,191.8 L944.2,192.8 L945.9,191.4 L946.8,191.4 L946.9,186.5 L947.8,191.2 L945.6,187.7 L949.2,191.7 L947.2,191.0 L947.5,188.1 L950.9,186.7 L951.0,186.6 L950.5,188.7 L950.0,185.0 L950.9,185.2 L950.6,183.1 L950.8,182.2 L953.9,181.2 L952.6,186.4 L954.1,183.8 L954.3,180.4 L955.2,182.0 L953.9,184.7 L956.7,184.8 L956.3,181.2 L957.6,185.3 L956.4,179.6 L961.1,182.1 L961.3,178.3 L961.7,183.6 L962.2,181.9 L960.7,178.0 L962.3,174.8 L962.2,173.7 L962.5,173.0 L962.9,176.6 L963.5,172.9 L961.7,176.4 L965.8,171.0 L964.1,173.4 L964.1,171.7 L968.0,174.7 L967.3,169.4 L969.4,172.1 L969.7,170.2 L969.0,171.1 L968.7,169.8 L971.0,172.3 L969.6,169.3 L973.5,170.7 L973.6,169.4 L972.3,168.0 L974.3,165.9 L974.4,169.4 L976.0,171.0 L975.6,170.9 L974.6,169.3 L975.9,165.8 L974.7,168.4 L974.7,166.1 L975.4,165.5 L976.0,161.5 L977.2,166.9 L978.2,162.5 L977.9,164.2 L980.2,162.3 L980.0,163.5 L981.3,165.5 L982.1,159.6 L980.3,163.0 L983.3,165.7 L984.9,163.4 L983.8,162.3 L984.7,163.7 L983.4,161.4 L983.8,162.0 L986.3,160.9 L986.4,162.5 L984.4,161.3 L987.9,160.9 L988.0,163.6 L988.2,158.4 L991.0,162.8 L991.6,161.0 L990.0,161.2 L990.4,158.5 L993.4,157.3 L994.5,157.5 L994.5,160.5 L993.6,161.5 L998.2,159.5 L996.9,162.1 L999.3,159.0 L999.2,156.0 L1000.2,160.6 L998.7,156.1 L999.1,154.9 L1001.5,155.8 L1002.0,159.0 L1001.3,158.4 L1002.3,158.9 L1003.4,153.5 L1003.9,153.7 L1005.5,158.8 L1003.2,154.5 L1002.8,157.4 L1007.2,155.0 L1006.6,152.1 L1005.4,151.2 L1006.8,152.9 L1006.6,150.0 L1008.7,152.1 L1009.6,153.5 L1008.5,152.1 L1010.8,154.1 L1013.0,151.8 L1013.0,153.7 L1012.8,152.8 L1016.0,154.4 L1015.1,152.3 L1014.8,153.1 L1015.5,151.3 L1014.5,152.1 L1017.3,149.2 L1016.5,147.3 L1017.1,148.2 L1019.9,147.6 L1018.7,148.8 L1021.7,150.4 L1019.6,144.6 L1019.5,150.3 L1022.7,145.7 L1023.2,151.1 L1022.2,149.3 L1024.5,148.6 L1026.0,148.7 L1027.7,148.3 L1025.4,145.2 L1027.7,146.5 L1029.9,145.5 L1028.3,146.1 L1028.1,145.3 L1028.9,144.9 L1031.9,145.5 L1030.0,145.2 L1031.3,143.3 L1033.7,143.2 L1033.0,146.8 L1034.8,146.4 L1033.3,146.2 L1036.6,147.0 L1034.4,142.2 L1037.6,144.2 L1035.7,141.6 L1038.5,143.3 L1037.5,146.8 L1040.6,140.4 L1038.3,141.0 L1038.7,146.3 L1042.2,140.8 L1040.0,139.3 L1040.4,144.7 L1042.3,139.8 L1041.7,143.7 L1046.2,144.7 L1044.5,141.1 L1043.5,140.0 L1045.2,143.5 L1047.2,141.3 L1049.0,144.7 L1048.5,140.2 L1052.7,142.2 L1050.6,142.2 L1051.6,140.2 L1050.3,140.3 L1050.5,140.9 L1053.9,139.5 L1051.8,137.6 L1053.3,140.7 L1055.1,138.9 L1056.2,135.5 L1056.4,134.9 L1058.2,139.4 L1059.0,139.3 L1059.2,138.4 L1060.7,138.7 L1059.5,135.9 L1060.6,138.4 L1062.8,141.1 L1060.1,137.2 L1062.2,136.8 L1064.9,140.8 L1064.3,135.7 L1063.5,134.9 L1063.3,137.1 L1066.3,134.8 L1066.5,139.2 L1067.0,137.4 L1068.4,135.9 L1067.9,135.7 L1068.5,133.6 L1069.3,133.9 L1068.8,134.8 L1072.7,132.0 L1071.7,134.7 L1074.1,132.7 L1072.9,137.1 L1073.5,135.0 L1078.0,136.9 L1075.2,134.7 L1078.2,133.0 L1079.9,133.8 L1079.6,135.0 L1079.8,135.8 L1081.0,132.5 L1080.6,134.8 L1081.5,136.5 L1082.8,132.7 L1081.7,133.4 L1083.1,135.6 L1084.0,135.1 L1086.0,132.9 L1085.7,137.8 L1083.9,138.1 L1087.5,136.6 L1086.7,133.6 L1086.8,135.9 L1091.3,131.5 L1091.9,132.3 L1091.7,131.6 L1090.0,134.6 L1090.9,132.0 L1094.1,131.3 L1091.3,133.1 L1094.0,133.9 L1092.8,135.7 L1094.1,130.5 L1094.6,134.6 L1093.9,136.0 L1094.2,132.8 L1099.5,133.6 L1098.5,136.4 L1097.8,135.0 L1099.7,134.7 L1099.5,136.0 L1099.3,136.8 L1103.0,134.5 L1102.7,135.4 L1104.9,136.5 L1103.7,135.3 L1106.9,135.7 L1107.1,137.1 L1106.4,135.9 L1107.4,132.4 L1108.8,134.7 L1109.9,134.8 L1110.1,132.8 L1107.5,133.0 L1111.0,134.1 L1111.4,134.6 L1111.8,136.0 L1111.9,137.6 L1112.9,135.1 L1114.0,134.3 L1114.8,136.6 L1116.8,131.9 L1114.6,134.0 L1115.5,133.0 L1116.5,133.5 L1118.4,132.2 L1118.8,134.3 L1118.2,132.9 L1122.0,133.7 L1121.2,132.0 L1122.0,131.9 L1120.0,133.9 L1122.3,132.6 L1122.3,132.0 L1122.6,126.4 L1124.2,129.5 L1125.9,129.0 L1126.4,129.4 L1128.0,128.9 L1128.4,127.2 L1130.1,126.6 L1128.5,125.3 L1131.6,125.8 L1132.1,127.7 L1131.2,129.3 L1131.0,128.0 L1133.8,133.6 L1135.1,129.2 L1132.9,130.8 L1136.6,133.4 L1135.4,133.4 L1138.0,130.4 L1136.8,130.1 L1137.7,126.2 L1137.1,124.9 L1138.0,125.0 L1142.3,127.4 L1139.9,131.3 L1141.7,129.3 L1140.1,127.5 L1143.5,127.7 L1141.4,129.0 L1143.3,127.8 L1144.8,130.7 L1143.0,128.5 L1143.8,127.2 L1147.5,131.8 L1147.9,130.0 L1146.4,129.2 L1145.9,129.6 L1150.3,127.9 L1148.4,127.1 L1152.0,129.1 L1149.5,128.1 L1152.4,125.6 L1150.6,123.3 L1152.6,128.4 L1154.5,127.9 L1151.6,124.8 L1155.4,125.4 L1156.2,122.0 L1155.2,125.2 L1155.1,121.2 L1156.2,125.3 L1156.1,121.2 L1160.3,124.0 L1160.3,120.9 L1158.2,124.9 L1161.7,124.7 L1159.2,123.6 L1163.6,123.6 L1162.0,125.0 L1165.4,125.6 L1165.3,123.5 L1167.7,121.7 L1167.0,127.3 L1168.8,125.9 L1167.3,125.9 L1167.1,126.1 L1171.3,122.9 L1169.5,126.4 L1171.3,126.1 L1170.8,124.8 L1172.1,125.3 L1174.1,125.1 L1170.3,122.7 L1174.1,124.1 L1175.3,126.6 L1173.3,126.2 L1176.7,128.5 L1176.6,125.0 L1174.9,123.5 L1177.6,123.7 L1178.7,119.9 L1177.3,120.3 L1180.5,123.4 L1180.7,125.1 L1180.1,122.3 L1179.8,120.8 L1184.3,119.0 L1185.7,120.2 L1186.4,123.0 L1187.9,121.0 L1188.4,121.9 L1186.1,120.4 L1189.0,118.0 L1187.2,118.6 L1188.0,122.5 L1188.4,122.0 L1189.1,120.1 L1189.7,121.6 L1193.2,116.5 L1192.9,119.2 L1192.7,121.9 L1193.8,121.9 L1192.2,120.8 L1194.8,119.1 L1194.7,117.6 L1197.3,119.8 L1199.3,117.7 L1196.0,120.0 L1201.0,119.4 L1200.1,122.4 L1198.4,118.0 L1201.1,118.8 L1202.2,119.7 L1201.4,120.1 L1204.5,122.8 L1203.5,122.2 L1202.3,119.2 L1203.3,121.8 L1202.6,120.8 L1204.8,123.0 L1204.5,119.4 L1206.1,118.5 L1209.1,118.8 L1207.5,118.4 L1211.2,118.7 L1212.2,118.9 L1211.7,118.9 L1213.1,120.7 L1213.0,120.4 L1211.2,119.1 L1215.8,121.8 L1215.4,124.1 L1216.4,123.5 L1218.2,123.4 L1216.9,120.5 L1218.0,123.5 L1220.1,120.6 L1220.5,121.1 L1218.0,123.5 L1217.3,122.0 L1221.2,124.5 L1221.8,119.5 L1219.4,120.0 L1221.2,123.8 L1220.8,119.1 L1224.1,122.3 L1226.1,123.9 L1222.8,121.6 L1225.8,122.8 L1224.1,122.1 L1224.7,117.7 L1228.8,120.5 L1228.5,119.3 L1229.8,117.2 L1228.2,115.6 L1230.1,121.1 L1230.2,120.0 L1233.9,121.4 L1232.7,116.6 L1232.5,121.8 L1235.2,123.3 L1233.5,117.2 L1238.4,118.7 L1235.7,121.8 L1236.2,120.0 L1239.2,118.4 L1238.8,115.1 L1239.6,116.8 L1240.9,119.9 L1241.1,117.8 L1242.9,116.9 L1241.8,115.5 L1245.4,119.8 L1245.7,115.9 L1244.2,119.6 L1248.2,120.5 L1247.4,117.9 L1246.6,120.8 L1247.1,118.7 L1246.6,119.4 L1251.1,119.3 L1249.6,114.2 L1249.0,117.7 L1250.5,117.0 L1248.1,113.5 L1250.7,114.3 L1253.0,117.4 L1250.3,116.1 L1250.2,114.0 L1253.5,116.5 L1253.7,114.2 L1255.8,117.9 L1255.0,117.5 L1256.5,115.0 L1255.5,116.2 L1256.3,116.2 L1258.2,114.3 L1259.7,119.8 L1261.6,115.3 L1259.9,120.5 L1261.9,115.4 L1260.6,118.7 L1263.7,116.7 L1263.8,117.7 L1262.9,116.6 L1263.4,115.6 L1264.0,119.6 L1268.0,120.9 L1267.0,114.6 L1267.6,120.2 L1268.7,116.9 L1271.7,117.4 L1269.7,113.7 L1272.6,117.8 L1271.6,112.6 L1274.8,116.8 L1275.2,118.0 L1274.6,117.2 L1275.8,114.5 L1273.8,117.7 L1276.3,114.9 L1277.6,118.5 L1276.1,115.7 L1275.8,115.5 L1277.6,115.9 L1278.0,114.9 L1280.0,116.8 L1279.9,112.1 L1280.9,113.1 L1281.6,112.3 L1283.0,114.0 L1282.2,116.1 L1285.9,117.9 L1287.2,114.9 L1289.1,113.9 L1287.8,113.3 L1290.8,117.4 L1289.9,117.2 L1288.4,113.7 L1289.8,116.5 L1290.9,114.6 L1291.3,113.6 L1291.2,118.4 L1292.0,117.5 L1295.4,113.9 L1293.7,115.0 L1296.9,112.4 L1295.7,116.2 L1299.0,116.0 L1297.6,118.0 L1299.3,116.0 L1298.2,114.4 L1297.9,117.1 L1299.0,115.6 L1301.6,115.7 L1302.4,116.8 L1300.9,116.8 L1302.9,115.6 L1305.2,118.9 L1302.1,115.0 L1304.2,117.3 L1305.7,119.4 L1305.6,117.4 L1307.7,119.2 L1310.3,114.7 L1310.4,116.2 L1310.0,115.0 L1308.7,117.2 L1313.2,114.8 L1311.9,115.7 L1314.0,113.6 L1313.3,116.2 L1312.1,115.3 L1312.6,116.2 L1313.0,117.3 L1314.6,112.3 L1315.0,115.7 L1319.6,115.4 L1319.4,113.2 L1318.8,111.1 L1317.8,112.3 L1319.4,112.3 L1320.3,116.6 L1322.1,113.7 L1321.8,115.3 L1323.8,115.4 L1325.5,114.9 L1325.6,114.5 L1324.9,112.9 L1327.1,116.7 L1324.6,116.1 L1325.8,116.6 L1328.4,116.9 L1329.8,116.4 L1328.0,116.1 L1330.5,114.8 L1329.5,115.9 L1332.7,116.7 L1333.1,114.8 L1329.5,116.9 L1330.7,118.5 L1332.6,116.4 L1333.5,118.1 L1333.9,114.0 L1336.7,113.0 L1338.2,114.4 L1338.2,116.7 L1336.3,117.8 L1338.8,115.2 L1337.8,116.2 L1339.5,112.6 L1340.4,116.2 L1341.7,116.3 L1340.8,117.8 L1342.9,115.5 L1340.7,111.7 L1342.6,113.2 L1345.1,115.5 L1346.7,115.1 L1343.3,116.2 L1345.5,111.9 L1346.5,114.9 L1347.9,110.4 L1349.8,112.8 L1349.7,112.8 L1348.2,113.5 L1349.3,112.4 L1349.6,114.0 L1351.5,114.4 L1351.3,114.0 L1354.9,114.3 L1354.4,112.8 L1354.6,109.5 L1358.2,109.7 L1355.8,111.1 L1357.2,109.5 L1359.0,112.5 L1361.5,112.4 L1360.2,112.6 L1359.5,109.8 L1359.9,113.6 L1360.7,111.4 L1362.8,111.6 L1361.3,113.8 L1363.4,112.9 L1362.4,110.9 L1364.1,114.4 L1365.6,112.2 L1365.4,112.6 L1368.4,115.7 L1368.7,117.5 L1366.1,115.7 L1367.3,115.6 L1369.2,116.1 L1369.6,117.0 L1371.7,117.6 L1372.8,113.8 L1371.1,116.3 L1372.4,117.5 L1373.1,112.8 L1372.6,112.4 L1376.5,115.5 L1376.7,115.2 L1376.9,114.4 L1374.5,113.1 L1375.6,110.6 L1379.7,112.8 L1378.6,115.1 L1377.3,111.6 L1378.5,111.9 L1379.3,111.4 L1382.7,112.1 L1381.4,114.2 L1382.2,116.0 L1382.5,115.1 L1385.7,112.7 L1383.1,111.0 L1384.5,111.0 L1386.9,112.8 L1386.6,109.6 L1389.6,114.0 L1390.9,112.5 L1391.3,116.9 L1392.8,114.5 L1392.0,112.0 L1394.1,114.5 L1394.2,114.8 L1394.1,113.2 L1396.0,115.1 L1396.3,116.5 L1397.8,113.6 L1396.8,114.0 L1399.8,116.5 L1398.7,116.6 L1397.5,114.8 L1400.1,117.8 L1400.6,114.9 L1399.9,114.5 L1402.2,116.1 L1403.3,117.1 L1402.4,113.4 L1403.2,117.8 L1405.7,115.4 L1405.3,112.9 L1405.4,112.3 L1403.9,114.8 L1404.5,114.2 L1406.6,114.3 L1407.6,113.6 L1406.8,118.3 L1407.1,114.9 L1407.4,114.5 L1409.6,114.5 L1414.1,114.5 L1413.7,113.6 L1412.4,116.7 L1415.7,117.0 L1413.2,116.4 L1414.4,113.8 L1416.1,111.7 L1418.8,115.2 L1417.2,114.5 L1418.6,114.4 L1419.9,115.1 L1418.1,114.0 L1420.6,116.7 L1421.6,111.4 L1421.5,116.9 L1422.3,113.6 L1421.3,116.3 L1423.9,114.0 L1422.3,114.6 L1425.9,116.2 L1427.0,118.0 L1424.1,115.3 L1426.2,117.7 L1426.1,116.8 L1427.7,113.5 L1427.1,113.3 L1430.0,115.2 L1432.8,112.6 L1429.8,114.4 L1432.3,112.9 L1431.5,117.7 L1435.3,117.0 L1434.8,114.2 L1435.2,115.4 L1435.0,118.4 L1434.9,115.3 L1438.0,118.8 L1440.2,114.8 L1440.0,115.5 L1440.7,115.7 L1440.9,110.8 L1442.2,115.5 L1441.1,109.3 L1440.9,112.0 L1440.5,110.7 L1442.1,113.9 L1444.3,113.9 L1445.1,113.8 L1445.0,110.4 L1445.6,114.2 L1447.0,112.7 L1447.5,110.3 L1445.4,109.4 L1446.7,111.6 L1447.2,112.8 L1450.2,110.5 L1449.3,114.0 L1452.1,111.9 L1454.4,113.6 L1452.3,109.2 L1454.2,108.6 L1456.0,112.8 L1456.4,109.5 L1457.7,112.2 L1456.8,110.4 L1456.7,111.4 L1459.3,116.4 L1459.6,112.2 L1460.3,111.9 L1459.0,111.3 L1460.1,113.5 L1463.0,114.1 L1461.1,112.7 L1461.7,116.6 L1461.1,114.1 L1462.0,116.5 L1463.4,113.2 L1464.2,114.5 L1462.5,113.3 L1463.4,110.7 L1467.1,114.2 L1467.6,112.6 L1465.9,114.2 L1468.6,111.3 L1466.4,112.0 L1469.2,112.8 L1471.5,115.4 L1468.9,117.7 L1471.7,116.6 L1473.9,112.7 L1474.0,112.7 L1473.0,114.2 L1475.7,113.7 L1474.8,114.3 L1474.8,115.2 L1476.8,116.9 L1478.9,116.3 L1475.6,114.5 L1476.8,116.1 L1478.2,114.6 L1480.3,111.9 L1480.1,108.9 L1480.4,111.1 L1485.2,111.2 L1486.2,109.1 L1483.2,112.9 L1484.7,114.1 L1485.1,111.8 L1488.9,108.7 L1487.8,110.1 L1487.6,115.9 L1490.2,114.9 L1489.2,113.9 L1490.7,115.7 L1492.8,113.1 L1493.2,116.2 L1495.2,113.5 L1494.4,116.7 L1495.9,111.6 L1494.4,115.2 L1494.6,116.4 L1498.0,115.8 L1498.8,114.1 L1500.1,108.8 L1499.8,115.3 L1500.9,113.4 L1499.6,110.6 L1501.7,111.4 L1502.8,112.9 L1503.1,113.2 L1504.4,113.8 L1503.9,112.9 L1502.7,115.1 L1503.9,114.9 L1508.5,116.3 L1509.0,112.8 L1508.7,115.1 L1507.1,113.3 L1509.6,114.5 L1509.4,117.0 L1512.5,116.8 L1512.8,115.6 L1513.3,113.1 L1510.1,115.5 L1513.0,112.3 L1515.4,114.6 L1513.8,117.8 L1516.8,115.8 L1514.4,116.0 L1518.4,115.3 L1517.7,112.3 L1517.5,112.0 L1520.0,112.4 L1520.5,116.7 L1518.7,112.1 L1520.9,114.4 L1522.8,115.9 L1524.2,112.1 L1523.2,113.5 L1523.4,112.9 L1526.5,112.5 L1525.6,110.1 L1526.3,110.6 L1526.9,114.8 L1527.0,115.6 L1526.2,112.6 L1528.2,114.4 L1528.8,116.5 L1529.6,113.3 L1527.7,114.5 L1527.7,111.4 L1529.1,113.8 L1529.2,113.3 L1532.6,112.8 L1533.3,115.4 L1533.3,113.2 L1537.0,116.5 L1534.9,113.5 L1535.2,115.1 L1538.5,112.2 L1537.6,114.5 L1535.6,116.7 L1539.7,115.2 L1539.9,114.7 L1541.0,114.0 L1538.0,114.5 L1539.6,115.2 L1540.2,115.7 L1540.5,114.0 L1544.1,116.3 L1543.2,117.8 L1541.3,113.4 L1545.0,118.6 L1543.6,117.2 L1545.3,113.0 L1548.2,112.8 L1548.9,115.3 L1548.1,113.3 L1549.8,117.9 L1550.1,114.5 L1549.7,114.5 L1550.2,112.8 L1553.7,113.0 L1553.3,117.2 L1554.9,116.4 L1552.3,113.9 L1555.1,112.9 L1556.3,115.1 L1555.3,116.6 L1559.1,116.0 L1560.1,115.0 L1557.4,114.3 L1557.6,111.4 L1560.1,112.2 L1560.3,110.7 L1561.7,111.9 L1562.2,112.1 L1564.6,111.0 L1565.2,110.7 L1566.2,111.6 L1564.3,109.7 L1563.9,109.3 L1567.7,114.8 L1565.7,112.7 L1567.5,111.9 L1571.4,111.0 L1569.3,114.6 L1571.1,110.9 L1570.6,113.7 L1571.3,113.8 L1572.7,114.0 L1573.5,113.8 L1574.5,113.3 L1577.0,114.1 L1574.1,112.9 L1574.9,112.5 L1576.3,113.4 L1575.5,113.7 L1577.1,113.5 L1579.5,111.9 L1582.0,112.3 L1581.1,115.9 L1579.8,114.5 L1581.8,111.5 L1584.9,111.4 L1583.6,113.4 L1584.4,115.8 L1584.9,113.7 L1583.9,116.6 L1584.5,114.3 L1584.1,112.0 L1584.8,115.7 L1586.2,117.7 L1587.3,115.3 L1587.6,112.7 L1587.0,112.7 L1591.2,111.6 L1591.5,114.9 L1592.0,114.9 L1592.7,115.9 L1593.8,115.4 L1595.0,113.4 L1594.5,117.6 L1596.1,111.4 L1597.1,116.8 L1597.2,112.2 L1599.4,117.0 L1598.5,114.4 L1600.4,112.1 L1601.2,114.7 L1599.2,114.1 L1600.4,114.2 L1599.5,114.2 L1600.1,112.5 L1601.0,110.7 L1602.5,110.9 L1601.7,114.3 L1602.7,112.8 L1604.5,114.5 L1605.0,113.6 L1603.8,111.9 L1605.2,116.9 L1606.1,113.3 L1609.8,114.4 L1611.1,116.0 L1607.5,112.2 L1608.6,112.0 L1610.0,115.4 L1610.4,111.3 L1612.9,109.8 L1613.1,110.6 L1613.1,112.6 L1615.1,107.7 L1617.0,109.5 L1615.6,110.7 L1618.6,110.1 L1618.5,113.4 L1618.2,111.4 L1620.2,114.8 L1619.9,112.1 L1619.2,110.0 L1623.3,110.5 L1625.9,110.6 L1623.0,112.7 L1625.0,112.2 L1626.4,107.8 L1628.6,112.8 L1627.8,109.4 L1627.7,110.6 L1629.1,108.2 L1627.3,113.6 L1628.4,111.5 L1629.4,110.0 L1630.7,112.1 L1628.4,109.7 L1628.6,110.2 L1634.2,110.2 L1631.7,109.9 L1633.7,108.9 L1635.6,108.2 L1634.5,111.5 L1638.5,109.9 L1636.4,110.7 L1638.8,108.7 L1641.0,109.2 L1637.0,109.1 L1637.7,111.7 L1638.7,109.8 L1642.6,113.5 L1642.9,110.1 L1641.6,112.7 L1640.5,114.3 L1641.5,111.4 L1645.6,113.3 L1646.9,115.3 L1648.2,111.9 L1649.1,115.6 L1648.8,114.4 L1650.1,116.5 L1650.5,116.3 L1648.3,115.8 L1649.4,117.1 L1652.3,115.7 L1651.9,115.3 L1652.1,113.6 L1653.5,115.3 L1652.6,112.0 L1653.5,114.3 L1656.4,114.6 L1654.7,112.4 L1656.0,112.5 L1655.9,112.1 L1656.8,109.4 L1660.0,109.8 L1659.2,112.6 L1659.7,112.6 L1659.8,113.3 L1663.9,110.4 L1662.1,109.7 L1661.6,109.2 L1665.5,110.1 L1663.9,110.0 L1664.8,112.6 L1666.9,111.2 L1667.9,110.7 L1666.2,109.9 L1665.8,108.3 L1671.2,107.3 L1668.2,107.9 L1669.5,107.1 L1670.9,109.4 L1671.9,107.9 L1671.3,112.0 L1673.5,109.0 L1673.2,111.1 L1672.6,107.5 L1676.3,110.2 L1675.0,108.8 L1677.0,107.0 L1678.2,110.6 L1676.6,110.9 L1679.3,106.6 L1679.2,108.0 L1680.3,108.1 L1683.0,111.0 L1683.7,109.4 L1683.0,107.0 L1682.2,107.8 L1683.2,111.9 L1684.3,109.9 L1684.8,112.3 L1686.7,108.7 L1686.1,109.5 L1688.5,112.8 L1687.3,108.9 L1690.5,107.4 L1689.2,112.7 L1689.2,114.1 L1690.4,109.8 L1689.5,111.7 L1692.4,112.5 L1693.0,109.4 L1691.4,114.0 L1694.5,110.2 L1695.4,114.1 L1693.5,109.5 L1696.4,114.0 L1696.3,113.1 L1696.3,111.7 L1698.3,110.6 L1697.5,113.2 L1698.9,111.3 L1699.5,114.1 L1701.7,116.1 L1701.5,114.4 L1701.2,114.6 L1703.3,116.4 L1705.1,117.0 L1704.3,111.2 L1703.2,115.5 L1702.6,112.0 L1703.3,116.9 L1705.7,111.8 L1704.4,115.9 L1705.9,116.2 L1708.9,114.0 L1709.8,111.3 L1707.5,112.6 L1707.5,112.8 L1711.9,112.5 L1711.0,112.2 L1710.7,111.5 L1713.4,116.4 L1711.6,116.3 L1714.9,114.6 L1715.4,116.2 L1713.0,115.8 L1717.1,114.8 L1716.1,110.5 L1716.5,113.5 L1719.7,114.6 L1721.0,111.5 L1720.2,110.9 L1722.8,109.5 L1719.6,114.3 L1721.7,109.8 L1721.4,109.3 L1723.4,108.8 L1726.1,113.2 L1725.2,112.5 L1724.9,110.3 L1724.4,108.6 L1727.1,108.3" stroke="#000080" stroke-width="10" fill="none" stroke-linejoin="round" stroke-linecap="round"/>
</g>
<g clip-path="url(#pc)">
<path d="M250.2,1186.9 L862,1186.9" stroke="#000" stroke-width="4.2" stroke-dasharray="15.4 13.25" fill="none"/>
<path d="M851.8,1187.7 L1728,1187.7" stroke="#000" stroke-width="4.2" stroke-dasharray="15.4 13.25" fill="none"/>
</g>
<rect x="562" y="410" width="1086" height="7" fill="#000080"/>
<polygon points="1686,413.5 1647,394 1647,433" fill="#000080"/>
<rect x="293" y="853.2" width="328" height="6.8" fill="#000"/>
<polygon points="255,856 294,836 294,876" fill="#000"/>
<path d="M374.0,515.7 L337.3,409.8" stroke="#000080" stroke-width="4.4" fill="none"/>
<polygon points="325.8,376.7 349.1,405.7 325.5,413.9" fill="#000080"/>
<path d="M664.6,1106.3 L548.1,1210.4" stroke="#000080" stroke-width="4.4" fill="none"/>
<polygon points="522.0,1233.7 539.8,1201.1 556.4,1219.7" fill="#000080"/>
<path d="M1054.3,312.3 L941.8,253.5" stroke="#000080" stroke-width="4.4" fill="none"/>
<polygon points="910.8,237.3 947.6,242.4 936.0,264.6" fill="#000080"/>
<rect x="278" y="1253" width="9" height="8" fill="#000"/>
<rect x="278" y="60" width="9" height="8" fill="#000"/>
<rect x="358" y="1253" width="10" height="20" fill="#000"/>
<rect x="358" y="60" width="10" height="19" fill="#000"/>
<rect x="439" y="1253" width="9" height="8" fill="#000"/>
<rect x="439" y="60" width="9" height="8" fill="#000"/>
<rect x="519" y="1253" width="10" height="20" fill="#000"/>
<rect x="519" y="60" width="10" height="19" fill="#000"/>
<rect x="600" y="1253" width="9" height="8" fill="#000"/>
<rect x="600" y="60" width="9" height="8" fill="#000"/>
<rect x="680" y="1253" width="10" height="20" fill="#000"/>
<rect x="680" y="60" width="10" height="19" fill="#000"/>
<rect x="761" y="1253" width="9" height="8" fill="#000"/>
<rect x="761" y="60" width="9" height="8" fill="#000"/>
<rect x="841" y="1253" width="10" height="20" fill="#000"/>
<rect x="841" y="60" width="10" height="19" fill="#000"/>
<rect x="922" y="1253" width="9" height="8" fill="#000"/>
<rect x="922" y="60" width="9" height="8" fill="#000"/>
<rect x="1002" y="1253" width="10" height="20" fill="#000"/>
<rect x="1002" y="60" width="10" height="19" fill="#000"/>
<rect x="1083" y="1253" width="9" height="8" fill="#000"/>
<rect x="1083" y="60" width="9" height="8" fill="#000"/>
<rect x="1163" y="1253" width="10" height="20" fill="#000"/>
<rect x="1163" y="60" width="10" height="19" fill="#000"/>
<rect x="1243" y="1253" width="10" height="8" fill="#000"/>
<rect x="1243" y="60" width="10" height="8" fill="#000"/>
<rect x="1324" y="1253" width="9" height="20" fill="#000"/>
<rect x="1324" y="60" width="9" height="19" fill="#000"/>
<rect x="1404" y="1253" width="10" height="8" fill="#000"/>
<rect x="1404" y="60" width="10" height="8" fill="#000"/>
<rect x="1485" y="1253" width="9" height="20" fill="#000"/>
<rect x="1485" y="60" width="9" height="19" fill="#000"/>
<rect x="1565" y="1253" width="10" height="8" fill="#000"/>
<rect x="1565" y="60" width="10" height="8" fill="#000"/>
<rect x="1646" y="1253" width="9" height="20" fill="#000"/>
<rect x="1646" y="60" width="9" height="19" fill="#000"/>
<rect x="1726" y="1253" width="10" height="8" fill="#000"/>
<rect x="227" y="51" width="1499" height="9" fill="#000"/>
<rect x="227" y="1244" width="1499" height="9" fill="#000"/>
<rect x="246" y="51" width="9" height="1202" fill="#000"/>
<rect x="239" y="1169" width="7" height="10" fill="#000"/>
<rect x="227" y="1095" width="19" height="9" fill="#000"/>
<rect x="239" y="1020" width="7" height="10" fill="#000"/>
<rect x="227" y="946" width="19" height="9" fill="#000"/>
<rect x="239" y="871" width="7" height="9" fill="#000"/>
<rect x="227" y="796" width="19" height="10" fill="#000"/>
<rect x="239" y="722" width="7" height="9" fill="#000"/>
<rect x="227" y="647" width="19" height="10" fill="#000"/>
<rect x="239" y="573" width="7" height="9" fill="#000"/>
<rect x="227" y="498" width="19" height="10" fill="#000"/>
<rect x="239" y="424" width="7" height="9" fill="#000"/>
<rect x="227" y="349" width="19" height="9" fill="#000"/>
<rect x="239" y="274" width="7" height="10" fill="#000"/>
<rect x="227" y="200" width="19" height="9" fill="#000"/>
<rect x="239" y="125" width="7" height="10" fill="#000"/>
<rect x="1726" y="51" width="10" height="1202" fill="#0000A0"/>
<rect x="1736" y="1190" width="19" height="9" fill="#0000A0"/>
<rect x="1736" y="1054" width="7" height="9" fill="#0000A0"/>
<rect x="1736" y="918" width="19" height="10" fill="#0000A0"/>
<rect x="1736" y="783" width="7" height="9" fill="#0000A0"/>
<rect x="1736" y="647" width="19" height="10" fill="#0000A0"/>
<rect x="1736" y="512" width="7" height="9" fill="#0000A0"/>
<rect x="1736" y="376" width="19" height="10" fill="#0000A0"/>
<rect x="1736" y="241" width="7" height="9" fill="#0000A0"/>
<rect x="1736" y="105" width="19" height="9" fill="#0000A0"/>
<text transform="translate(363.9,1342.6) scale(1,1.055)" font-family="Liberation Serif, serif" font-weight="bold" font-size="68" text-anchor="middle" fill="#000" xml:space="preserve">100</text>
<text transform="translate(524.9,1342.6) scale(1,1.055)" font-family="Liberation Serif, serif" font-weight="bold" font-size="68" text-anchor="middle" fill="#000" xml:space="preserve">200</text>
<text transform="translate(685.8,1342.6) scale(1,1.055)" font-family="Liberation Serif, serif" font-weight="bold" font-size="68" text-anchor="middle" fill="#000" xml:space="preserve">300</text>
<text transform="translate(846.7,1342.6) scale(1,1.055)" font-family="Liberation Serif, serif" font-weight="bold" font-size="68" text-anchor="middle" fill="#000" xml:space="preserve">400</text>
<text transform="translate(1007.6,1342.6) scale(1,1.055)" font-family="Liberation Serif, serif" font-weight="bold" font-size="68" text-anchor="middle" fill="#000" xml:space="preserve">500</text>
<text transform="translate(1168.6,1342.6) scale(1,1.055)" font-family="Liberation Serif, serif" font-weight="bold" font-size="68" text-anchor="middle" fill="#000" xml:space="preserve">600</text>
<text transform="translate(1329.5,1342.6) scale(1,1.055)" font-family="Liberation Serif, serif" font-weight="bold" font-size="68" text-anchor="middle" fill="#000" xml:space="preserve">700</text>
<text transform="translate(1490.4,1342.6) scale(1,1.055)" font-family="Liberation Serif, serif" font-weight="bold" font-size="68" text-anchor="middle" fill="#000" xml:space="preserve">800</text>
<text transform="translate(1651.3,1342.6) scale(1,1.055)" font-family="Liberation Serif, serif" font-weight="bold" font-size="68" text-anchor="middle" fill="#000" xml:space="preserve">900</text>
<text transform="translate(211.2,1269.7) scale(1,1.055)" font-family="Liberation Serif, serif" font-weight="bold" font-size="68" text-anchor="end" fill="#000" xml:space="preserve">60</text>
<text transform="translate(211.2,1120.6) scale(1,1.055)" font-family="Liberation Serif, serif" font-weight="bold" font-size="68" text-anchor="end" fill="#000" xml:space="preserve">65</text>
<text transform="translate(211.2,971.5) scale(1,1.055)" font-family="Liberation Serif, serif" font-weight="bold" font-size="68" text-anchor="end" fill="#000" xml:space="preserve">70</text>
<text transform="translate(211.2,822.3) scale(1,1.055)" font-family="Liberation Serif, serif" font-weight="bold" font-size="68" text-anchor="end" fill="#000" xml:space="preserve">75</text>
<text transform="translate(211.2,673.2) scale(1,1.055)" font-family="Liberation Serif, serif" font-weight="bold" font-size="68" text-anchor="end" fill="#000" xml:space="preserve">80</text>
<text transform="translate(211.2,524.1) scale(1,1.055)" font-family="Liberation Serif, serif" font-weight="bold" font-size="68" text-anchor="end" fill="#000" xml:space="preserve">85</text>
<text transform="translate(211.2,374.9) scale(1,1.055)" font-family="Liberation Serif, serif" font-weight="bold" font-size="68" text-anchor="end" fill="#000" xml:space="preserve">90</text>
<text transform="translate(211.2,225.8) scale(1,1.055)" font-family="Liberation Serif, serif" font-weight="bold" font-size="68" text-anchor="end" fill="#000" xml:space="preserve">95</text>
<text transform="translate(211.2,76.7) scale(1,1.055)" font-family="Liberation Serif, serif" font-weight="bold" font-size="68" text-anchor="end" fill="#000" xml:space="preserve">100</text>
<text transform="translate(1770.3,130.6) scale(1,1.055)" font-family="Liberation Serif, serif" font-weight="bold" font-size="68" text-anchor="start" fill="#0000A0" xml:space="preserve">0.0</text>
<text transform="translate(1770.3,401.8) scale(1,1.055)" font-family="Liberation Serif, serif" font-weight="bold" font-size="68" text-anchor="start" fill="#0000A0" xml:space="preserve">-0.5</text>
<text transform="translate(1770.3,672.9) scale(1,1.055)" font-family="Liberation Serif, serif" font-weight="bold" font-size="68" text-anchor="start" fill="#0000A0" xml:space="preserve">-1.0</text>
<text transform="translate(1770.3,944.0) scale(1,1.055)" font-family="Liberation Serif, serif" font-weight="bold" font-size="68" text-anchor="start" fill="#0000A0" xml:space="preserve">-1.5</text>
<text transform="translate(1770.3,1215.2) scale(1,1.055)" font-family="Liberation Serif, serif" font-weight="bold" font-size="68" text-anchor="start" fill="#0000A0" xml:space="preserve">-2.0</text>
<text transform="translate(82.0,636.0) rotate(-90) scale(1,1.04)" font-family="Liberation Serif, serif" font-weight="bold" font-style="italic" font-size="79" text-anchor="middle" fill="#000" xml:space="preserve">Weight (%)</text>
<text transform="translate(1974.7,652.7) rotate(-90) scale(1.004,1.04)" font-family="Liberation Serif, serif" font-weight="bold" font-style="italic" font-size="79" text-anchor="middle" fill="#0000A0" xml:space="preserve">Heat flow (W/g)</text>
<text transform="translate(0,1458.5) scale(1,1.04)" font-family="Liberation Serif, serif" font-weight="bold" font-style="italic" font-size="79" fill="#000" xml:space="preserve"><tspan x="726.1" y="0" textLength="398.4" lengthAdjust="spacingAndGlyphs">Temerature </tspan><tspan x="1128" y="0">(</tspan><tspan x="1168.5" y="-32.2" font-size="52">o</tspan><tspan x="1196" y="0" textLength="56.4" lengthAdjust="spacingAndGlyphs">C</tspan><tspan x="1266" y="0">)</tspan></text>
<text transform="translate(303,586.2) scale(1,1.04)" font-family="Liberation Serif, serif" font-style="italic" font-size="55.5" fill="#000080" xml:space="preserve">75 <tspan font-size="38.8" dy="-21.3">o</tspan><tspan dy="21.3">C</tspan></text>
<text transform="translate(606.5,1088) scale(1,1.04)" font-family="Liberation Serif, serif" font-style="italic" font-size="55.5" fill="#000080" xml:space="preserve">191 <tspan font-size="38.8" dy="-21.3">o</tspan><tspan dy="21.3">C</tspan></text>
<text transform="translate(953.5,363.5) scale(1,1.04)" font-family="Liberation Serif, serif" font-style="italic" font-size="55.5" fill="#000080" xml:space="preserve">420-425 <tspan font-size="38.8" dy="-21.3">o</tspan><tspan dy="21.3">C</tspan></text>
<text transform="translate(1517.7,1146.6) scale(1,1.04)" font-family="Liberation Serif, serif" font-style="italic" font-size="55.5" fill="#000">37 wt%</text>
</svg>
</body></html>
